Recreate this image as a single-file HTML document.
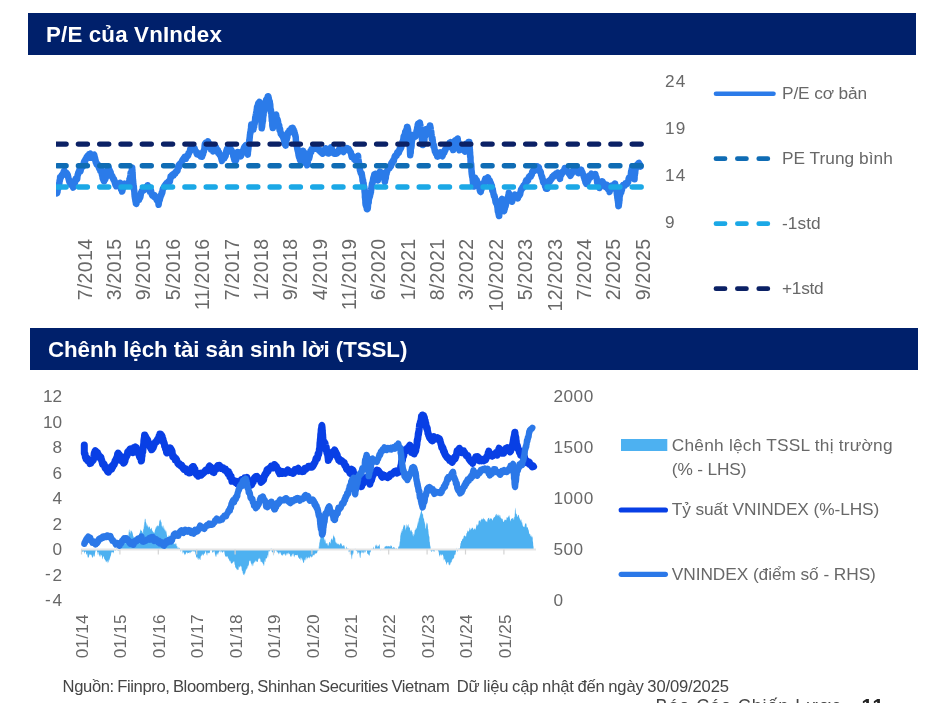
<!DOCTYPE html>
<html lang="vi">
<head>
<meta charset="utf-8">
<title>P/E của VnIndex</title>
<style>
html,body{margin:0;padding:0;background:#fff;}
body{width:947px;height:703px;overflow:hidden;}
#page{width:947px;height:703px;position:relative;overflow:hidden;font-family:"Liberation Sans",sans-serif;color:#686868;}
svg text{font-family:"Liberation Sans",sans-serif;}
.bar{position:absolute;background:#00206b;color:#fff;font-weight:bold;white-space:nowrap;}
.bar span{position:absolute;left:18px;top:0;}
#bar1{left:28px;top:13px;width:888px;height:41.8px;line-height:43.5px;font-size:22.3px;}
#bar2{left:30px;top:328px;width:888px;height:42.4px;line-height:43.5px;font-size:22.3px;}
.lg{position:absolute;white-space:nowrap;font-size:17.3px;line-height:23.7px;color:#686868;}
#foot{position:absolute;left:62.6px;top:676.5px;font-size:16.6px;line-height:20px;white-space:nowrap;color:#454545;word-spacing:-0.8px;}
#pg{position:absolute;left:655.5px;top:695.3px;font-size:18px;line-height:22px;white-space:nowrap;color:#454545;letter-spacing:0.9px;}
#pg b{position:absolute;left:206px;top:0;font-size:20px;color:#222;}
</style>
</head>
<body>
<div id="page">
<svg width="947" height="703" viewBox="0 0 947 703" style="position:absolute;left:0;top:0;will-change:transform">
<defs><clipPath id="cp1"><rect x="56" y="60" width="592" height="170"/></clipPath></defs>
<path d="M57.0,193.2 L57.1,193.1 L57.2,192.2 L57.4,192.2 L57.5,191.9 L57.6,189.8 L57.7,188.3 L57.8,189.6 L57.9,188.3 L58.1,187.3 L58.2,188.7 L58.3,187.6 L58.4,187.9 L58.5,186.6 L58.6,186.2 L58.8,184.2 L58.9,184.3 L59.0,184.7 L59.1,183.7 L59.3,183.5 L59.4,182.9 L59.6,180.5 L59.7,181.0 L59.9,180.5 L60.0,179.1 L60.1,177.2 L60.3,178.4 L60.4,177.6 L60.6,177.7 L60.7,177.9 L60.9,177.3 L61.0,177.3 L61.4,175.6 L61.8,175.7 L62.2,174.5 L62.7,175.1 L63.1,175.0 L63.5,172.5 L63.9,171.0 L64.5,170.9 L65.1,173.3 L65.7,173.1 L66.3,173.8 L66.9,173.3 L67.2,174.0 L67.4,174.3 L67.7,174.7 L67.9,175.8 L68.2,176.7 L68.4,178.4 L68.7,179.0 L68.9,180.3 L69.2,181.0 L69.4,182.1 L69.7,182.0 L69.9,180.7 L70.2,182.3 L70.4,183.7 L70.7,184.6 L71.0,184.3 L71.3,184.8 L71.5,183.8 L71.8,185.4 L72.1,185.7 L72.4,185.3 L72.6,184.6 L72.9,186.9 L73.2,187.6 L73.4,185.1 L73.7,185.6 L73.9,184.4 L74.2,182.7 L74.4,181.9 L74.7,182.7 L74.9,183.1 L75.2,180.6 L75.4,180.7 L75.7,178.8 L75.9,179.5 L76.2,178.5 L76.4,179.3 L76.7,179.8 L76.9,178.4 L77.2,178.9 L77.4,176.8 L77.7,174.8 L77.9,174.9 L78.2,173.1 L78.4,172.3 L78.7,172.2 L78.9,172.6 L79.2,171.1 L79.4,169.8 L79.7,171.2 L79.9,170.1 L80.2,171.2 L80.5,171.3 L80.8,169.6 L81.0,168.6 L81.3,168.0 L81.6,167.8 L81.9,167.3 L82.2,166.6 L82.5,166.2 L82.8,166.7 L83.0,165.4 L83.3,164.2 L83.6,164.1 L83.9,162.4 L84.2,161.4 L84.6,162.7 L84.9,161.8 L85.2,161.1 L85.6,158.9 L85.9,158.7 L86.2,158.9 L86.6,157.0 L86.9,157.6 L87.2,157.6 L87.6,155.7 L87.9,156.1 L88.3,155.5 L88.6,155.6 L89.0,154.4 L89.3,154.6 L89.7,155.6 L90.0,154.2 L90.4,153.8 L90.7,155.7 L91.1,157.8 L91.4,157.1 L91.8,157.5 L92.3,157.5 L92.8,156.5 L93.2,155.8 L93.7,155.2 L94.2,154.8 L94.4,156.1 L94.5,156.2 L94.7,156.8 L94.8,158.6 L95.0,157.6 L95.1,158.9 L95.3,160.5 L95.4,160.3 L95.6,160.2 L95.7,162.2 L95.9,161.9 L96.0,161.8 L96.2,162.8 L96.6,164.3 L97.1,163.6 L97.5,164.0 L97.9,164.6 L98.4,166.6 L98.8,166.7 L99.1,168.3 L99.4,167.4 L99.7,167.7 L100.0,169.0 L100.2,170.7 L100.5,170.5 L100.8,170.0 L101.1,169.7 L101.4,171.0 L101.6,171.0 L101.7,173.1 L101.9,174.7 L102.0,173.8 L102.2,173.9 L102.3,175.9 L102.5,176.7 L102.6,177.9 L102.8,177.5 L102.9,176.9 L103.0,177.3 L103.2,179.4 L103.3,179.2 L103.5,179.6 L103.6,180.3 L103.8,181.0 L104.0,180.4 L104.2,181.3 L104.4,179.3 L104.6,177.4 L104.8,179.0 L105.0,179.3 L105.2,179.6 L105.4,177.8 L105.6,178.1 L105.8,177.9 L106.0,175.5 L106.2,175.5 L106.4,175.5 L106.7,174.7 L106.9,173.6 L107.1,172.0 L107.3,171.1 L107.5,169.9 L107.7,168.6 L107.9,169.2 L108.2,168.3 L108.4,169.2 L108.6,167.1 L108.8,168.3 L109.0,169.2 L109.2,170.6 L109.4,171.6 L109.6,172.4 L109.8,172.2 L110.0,170.6 L110.2,172.2 L110.4,171.7 L110.6,172.0 L110.8,173.5 L111.1,174.2 L111.3,174.5 L111.6,176.4 L111.9,176.8 L112.2,176.4 L112.4,176.2 L112.7,178.1 L113.0,178.3 L113.3,179.5 L113.5,179.2 L113.8,178.8 L114.1,179.8 L114.3,181.4 L114.6,180.7 L114.9,182.3 L115.1,183.9 L115.4,184.7 L115.6,185.4 L115.9,183.6 L116.2,184.7 L116.4,186.2 L116.7,184.9 L117.2,184.2 L117.7,183.6 L118.2,184.0 L118.7,183.7 L119.2,183.5 L119.7,184.2 L119.9,183.1 L120.1,182.9 L120.3,183.2 L120.4,183.7 L120.6,184.1 L120.8,187.3 L121.0,189.0 L121.2,187.9 L121.4,188.8 L121.5,189.0 L121.7,189.4 L121.9,190.0 L122.1,191.5 L122.3,191.2 L122.5,190.2 L122.7,188.8 L122.8,188.2 L123.0,187.0 L123.2,187.4 L123.4,187.8 L123.6,186.8 L123.8,185.1 L124.0,184.2 L124.1,184.0 L124.3,184.3 L124.5,184.8 L124.7,183.6 L125.4,184.7 L126.0,184.8 L126.7,184.4 L127.4,184.0 L128.0,184.3 L128.7,185.1 L128.8,184.0 L128.9,184.0 L129.0,183.0 L129.1,181.5 L129.3,181.3 L129.4,181.4 L129.5,179.3 L129.6,178.9 L129.7,178.4 L129.8,179.3 L129.9,179.6 L130.0,177.8 L130.1,178.2 L130.3,177.7 L130.4,175.7 L130.5,174.8 L130.6,173.1 L130.7,173.9 L130.9,173.7 L131.0,173.9 L131.2,173.5 L131.4,172.6 L131.6,172.0 L131.8,170.9 L131.9,168.7 L132.1,168.6 L132.2,167.8 L132.2,168.0 L132.2,170.3 L132.3,169.7 L132.3,169.8 L132.4,170.1 L132.4,172.9 L132.5,172.6 L132.6,172.3 L132.6,174.8 L132.7,174.4 L132.7,176.5 L132.8,177.5 L132.8,178.8 L132.8,180.1 L132.9,180.0 L133.0,180.9 L133.0,179.4 L133.1,181.0 L133.1,181.4 L133.2,182.6 L133.2,181.6 L133.2,183.3 L133.3,185.1 L133.4,183.7 L133.4,184.0 L133.5,185.2 L133.6,186.8 L133.7,186.3 L133.7,186.1 L133.8,186.4 L133.9,188.0 L133.9,189.5 L134.0,189.6 L134.1,189.8 L134.1,190.3 L134.2,190.7 L134.3,191.3 L134.3,191.0 L134.4,192.3 L134.5,194.7 L134.6,194.7 L134.6,195.9 L134.7,195.1 L134.8,196.5 L134.9,197.7 L135.0,198.5 L135.1,198.6 L135.2,198.9 L135.3,199.8 L135.5,201.4 L135.6,200.2 L135.7,199.7 L135.8,201.7 L135.9,203.5 L136.0,203.6 L136.1,203.7 L136.4,203.8 L136.8,201.9 L137.1,200.9 L137.4,199.9 L137.7,200.3 L138.1,199.4 L138.4,198.5 L138.7,199.1 L139.0,200.0 L139.4,198.2 L139.7,198.3 L139.9,197.1 L140.2,197.6 L140.4,196.7 L140.7,195.0 L140.9,193.7 L141.2,192.1 L141.4,192.4 L141.7,192.0 L141.9,190.8 L142.2,190.5 L142.4,190.0 L142.7,190.7 L143.2,189.1 L143.7,190.5 L144.1,189.6 L144.6,189.1 L145.1,188.3 L145.6,188.7 L145.9,188.7 L146.3,187.6 L146.6,186.6 L146.9,186.5 L147.3,186.7 L147.6,185.2 L147.8,186.2 L148.1,187.7 L148.3,187.3 L148.6,186.7 L148.8,186.6 L149.1,188.2 L149.3,189.3 L149.6,191.0 L149.8,191.8 L150.1,190.8 L150.3,190.3 L150.6,190.5 L151.0,190.5 L151.3,192.4 L151.7,194.0 L152.1,195.3 L152.5,194.3 L152.8,195.8 L153.2,195.2 L153.6,195.4 L154.0,196.7 L154.3,195.7 L154.7,195.4 L155.1,197.7 L155.5,197.5 L155.8,197.8 L156.2,198.9 L156.6,200.0 L156.9,198.9 L157.2,199.5 L157.5,200.4 L157.7,201.3 L158.0,201.2 L158.3,202.6 L158.6,204.7 L158.8,203.2 L158.9,202.6 L159.1,200.7 L159.2,199.9 L159.4,200.3 L159.5,198.6 L159.7,199.7 L159.8,200.1 L160.0,197.6 L160.1,198.5 L160.3,197.0 L160.4,197.2 L160.6,196.9 L160.8,195.1 L161.0,195.0 L161.2,194.7 L161.5,194.7 L161.7,192.8 L161.9,193.0 L162.1,193.4 L162.3,192.5 L162.5,191.4 L162.7,189.2 L163.0,188.9 L163.2,188.1 L163.4,188.5 L163.6,188.3 L164.0,187.7 L164.3,186.0 L164.7,186.2 L165.1,186.0 L165.5,184.4 L165.8,185.4 L166.2,185.0 L166.6,183.0 L167.1,184.2 L167.6,182.4 L168.1,181.8 L168.6,182.5 L169.1,182.3 L169.6,182.0 L169.8,181.7 L170.0,180.6 L170.2,179.4 L170.4,178.0 L170.6,176.6 L170.7,177.6 L170.9,177.9 L171.1,177.2 L171.3,177.1 L171.5,175.7 L172.1,174.8 L172.7,174.5 L173.3,175.7 L173.9,173.8 L174.5,174.1 L174.8,173.0 L175.2,173.7 L175.5,172.7 L175.8,171.8 L176.2,171.2 L176.5,171.1 L176.8,171.5 L177.2,170.2 L177.5,170.7 L177.8,168.5 L178.0,167.6 L178.3,166.3 L178.6,165.4 L178.9,166.6 L179.1,166.9 L179.4,165.2 L179.7,164.0 L180.0,163.8 L180.2,164.4 L180.5,164.8 L180.9,164.5 L181.2,163.7 L181.6,161.7 L182.0,161.1 L182.4,160.0 L182.8,160.1 L183.1,160.1 L183.5,158.7 L183.9,157.9 L184.3,158.8 L184.7,156.9 L185.1,157.9 L185.5,158.5 L185.9,158.7 L186.3,157.0 L186.7,156.3 L187.1,155.8 L187.5,155.4 L187.8,156.0 L188.2,155.2 L188.5,153.3 L188.8,153.7 L189.2,152.5 L189.5,152.0 L189.8,151.8 L190.2,149.3 L190.5,150.0 L191.1,150.2 L191.7,149.6 L192.3,149.4 L192.9,148.9 L193.5,147.8 L193.9,148.7 L194.4,147.9 L194.8,149.1 L195.2,150.4 L195.6,150.6 L196.1,151.4 L196.5,153.1 L196.9,154.2 L197.2,152.7 L197.6,154.1 L197.9,154.5 L198.3,153.3 L198.7,153.8 L199.0,153.9 L199.4,153.7 L200.1,154.7 L200.7,156.5 L201.3,155.6 L202.0,156.7 L202.2,156.3 L202.4,154.1 L202.5,154.8 L202.7,154.1 L202.9,154.5 L203.1,153.8 L203.2,153.2 L203.4,151.4 L203.6,151.6 L203.8,151.8 L203.9,151.4 L204.1,149.7 L204.3,149.4 L204.5,148.2 L204.6,146.2 L204.8,144.6 L205.0,143.5 L205.4,143.2 L205.8,142.6 L206.1,143.1 L206.5,143.7 L206.9,143.4 L207.2,142.6 L207.6,142.6 L208.0,141.4 L208.2,142.0 L208.4,143.5 L208.6,143.5 L208.9,143.1 L209.1,145.3 L209.3,146.2 L209.5,145.9 L209.7,146.0 L209.9,146.8 L210.1,147.7 L210.4,147.3 L210.6,146.7 L210.8,147.2 L211.0,149.5 L211.3,149.0 L211.7,149.9 L212.0,149.9 L212.3,150.1 L212.7,150.3 L213.0,151.4 L213.4,150.5 L213.7,149.3 L214.1,148.7 L214.4,148.3 L214.8,148.9 L215.2,147.7 L215.5,146.6 L215.9,147.1 L216.2,148.1 L216.6,149.8 L216.9,149.0 L217.2,149.9 L217.6,150.6 L217.9,150.1 L218.2,152.9 L218.6,152.5 L218.9,152.1 L219.2,153.3 L219.4,153.3 L219.7,154.9 L220.0,155.2 L220.3,154.9 L220.5,154.8 L220.8,157.0 L221.1,157.1 L221.4,158.9 L221.6,159.2 L221.9,161.0 L222.6,159.5 L223.2,158.4 L223.9,157.6 L224.2,158.5 L224.4,158.1 L224.7,156.8 L224.9,155.1 L225.2,155.6 L225.4,156.5 L225.7,155.6 L225.9,153.1 L226.2,151.5 L226.4,150.6 L226.7,150.0 L226.9,149.1 L227.3,148.4 L227.7,149.6 L228.0,150.8 L228.4,149.1 L228.8,150.3 L229.2,149.2 L229.5,149.4 L229.9,149.6 L230.2,150.6 L230.4,148.7 L230.7,148.7 L231.0,149.9 L231.3,151.8 L231.5,150.5 L231.8,150.6 L232.1,152.6 L232.4,151.8 L232.6,152.4 L232.9,152.8 L233.1,154.3 L233.3,156.1 L233.5,155.2 L233.6,156.6 L233.8,157.6 L234.0,158.7 L234.2,158.7 L234.4,160.1 L234.6,159.4 L234.8,159.5 L234.9,159.2 L235.1,161.0 L235.3,161.3 L235.5,161.1 L235.7,159.8 L235.8,160.4 L236.0,160.2 L236.1,160.1 L236.3,158.8 L236.5,158.1 L236.6,156.5 L236.8,157.0 L236.9,154.9 L237.1,154.8 L237.3,155.4 L237.4,155.2 L237.6,153.1 L237.7,152.1 L237.9,153.0 L238.5,153.7 L239.1,155.0 L239.6,155.8 L240.2,155.2 L240.8,156.4 L241.1,155.8 L241.5,154.0 L241.8,152.9 L242.1,151.1 L242.5,150.9 L242.8,152.2 L243.1,150.1 L243.5,150.0 L243.8,148.4 L244.2,147.2 L244.6,148.1 L245.0,147.1 L245.4,145.7 L245.8,145.1 L246.2,146.0 L246.3,147.2 L246.5,146.4 L246.6,146.9 L246.8,149.7 L246.9,149.3 L247.1,150.4 L247.2,150.8 L247.4,152.5 L247.5,153.1 L247.7,154.3 L247.8,154.5 L247.9,152.6 L247.9,151.2 L248.0,149.9 L248.1,151.2 L248.1,149.5 L248.2,148.0 L248.3,149.7 L248.4,148.1 L248.4,149.0 L248.5,146.8 L248.6,146.5 L248.6,145.3 L248.7,146.2 L248.8,145.8 L248.8,145.4 L248.9,145.2 L249.0,145.2 L249.1,143.3 L249.1,142.8 L249.2,141.8 L249.3,139.9 L249.3,140.8 L249.4,140.3 L249.5,140.4 L249.6,138.4 L249.7,138.0 L249.7,137.3 L249.8,137.4 L249.9,135.2 L250.0,134.6 L250.1,134.4 L250.2,132.7 L250.3,133.0 L250.4,133.4 L250.4,132.4 L250.5,132.3 L250.6,131.8 L250.7,130.1 L250.8,129.3 L250.9,130.5 L251.0,128.9 L251.1,128.1 L251.1,126.3 L251.2,125.4 L251.3,124.5 L251.4,126.1 L251.9,127.1 L252.4,128.4 L252.9,129.6 L253.4,129.4 L253.5,129.4 L253.6,127.9 L253.8,126.5 L253.9,127.0 L254.0,126.9 L254.1,126.7 L254.2,125.0 L254.4,124.6 L254.5,123.0 L254.6,123.7 L254.7,123.5 L254.8,121.3 L255.0,121.7 L255.1,119.4 L255.2,117.6 L255.3,118.3 L255.4,117.1 L255.6,116.8 L255.7,116.8 L255.8,114.7 L255.9,115.4 L256.0,114.1 L256.1,113.5 L256.2,112.7 L256.4,113.2 L256.5,113.2 L256.6,111.6 L256.7,109.8 L256.8,109.2 L256.9,108.9 L257.0,107.5 L257.1,106.7 L257.2,107.8 L257.4,107.9 L257.5,108.6 L257.6,108.7 L257.7,108.1 L257.8,106.0 L258.1,104.0 L258.4,103.0 L258.8,102.6 L259.1,102.3 L259.4,101.9 L259.5,102.1 L259.5,104.0 L259.6,103.6 L259.7,104.2 L259.8,106.0 L259.8,107.1 L259.9,106.5 L260.0,106.2 L260.0,108.0 L260.1,106.9 L260.2,107.0 L260.2,108.5 L260.3,109.6 L260.4,109.4 L260.4,109.2 L260.5,109.8 L260.6,112.2 L260.7,112.8 L260.7,115.0 L260.8,115.9 L260.8,117.2 L260.9,115.4 L260.9,115.1 L261.0,114.7 L261.0,116.1 L261.1,116.8 L261.1,116.6 L261.2,118.2 L261.2,118.1 L261.3,118.9 L261.3,119.5 L261.3,121.7 L261.4,122.0 L261.4,122.0 L261.5,121.7 L261.5,122.9 L261.6,124.4 L261.6,125.7 L261.7,127.4 L261.7,128.3 L261.8,127.4 L261.8,126.8 L261.9,127.4 L262.0,127.6 L262.0,126.5 L262.1,126.7 L262.2,125.6 L262.3,124.0 L262.3,122.4 L262.4,120.9 L262.5,121.6 L262.6,122.5 L262.6,122.7 L262.7,121.3 L262.8,120.8 L262.9,121.0 L263.0,120.6 L263.0,119.4 L263.1,117.9 L263.2,117.1 L263.3,115.4 L263.3,114.2 L263.4,114.7 L263.5,115.7 L263.6,114.6 L263.6,113.3 L263.7,112.2 L263.8,111.6 L263.9,112.0 L264.0,111.0 L264.1,111.6 L264.2,109.3 L264.4,108.2 L264.5,108.0 L264.6,107.3 L264.7,107.9 L264.8,107.9 L264.9,108.0 L265.0,106.8 L265.1,104.1 L265.2,104.0 L265.4,103.6 L265.5,102.9 L265.6,101.6 L265.7,102.0 L265.8,102.5 L266.1,100.1 L266.3,100.2 L266.6,99.1 L266.8,98.7 L267.1,99.4 L267.3,99.6 L267.6,98.6 L267.8,96.4 L268.1,97.1 L268.2,96.2 L268.4,96.6 L268.5,98.5 L268.7,98.2 L268.8,98.2 L269.0,100.5 L269.1,102.1 L269.3,101.3 L269.4,101.4 L269.6,101.4 L269.7,101.2 L269.8,101.8 L269.9,104.5 L270.0,103.6 L270.1,103.9 L270.1,104.2 L270.2,104.3 L270.3,105.9 L270.4,107.8 L270.5,109.4 L270.6,109.9 L270.7,111.0 L270.8,109.5 L270.9,109.8 L270.9,112.2 L271.0,111.2 L271.1,111.5 L271.2,112.6 L271.3,112.8 L271.4,114.1 L271.4,113.5 L271.5,114.0 L271.5,116.8 L271.6,116.1 L271.7,118.3 L271.7,117.6 L271.8,119.9 L271.8,120.5 L271.9,121.0 L272.0,120.1 L272.0,119.6 L272.1,121.7 L272.2,121.3 L272.2,121.5 L272.3,123.7 L272.3,125.4 L272.4,124.1 L272.5,126.4 L272.5,126.6 L272.6,126.6 L272.6,126.0 L272.7,126.8 L272.8,128.1 L272.9,126.4 L273.0,124.8 L273.1,123.6 L273.1,122.6 L273.2,122.5 L273.3,123.8 L273.4,121.8 L273.5,120.7 L273.6,122.1 L273.7,122.8 L273.8,122.8 L273.8,120.3 L273.9,119.0 L274.0,119.8 L274.1,118.6 L274.6,118.4 L275.1,116.9 L275.6,115.0 L276.1,114.6 L276.3,116.5 L276.6,117.9 L276.8,118.3 L277.0,118.5 L277.2,119.0 L277.5,119.3 L277.7,120.0 L277.8,121.6 L277.9,120.8 L278.1,121.9 L278.2,123.7 L278.3,124.8 L278.4,123.6 L278.6,125.6 L278.7,126.6 L278.8,125.5 L278.9,125.4 L279.1,125.4 L279.2,125.3 L279.3,128.3 L279.4,128.5 L279.6,130.2 L279.7,129.2 L280.0,128.6 L280.3,131.1 L280.6,132.5 L280.8,134.1 L281.1,134.3 L281.4,134.2 L281.7,135.1 L281.9,133.9 L282.1,134.9 L282.3,135.3 L282.5,135.0 L282.7,136.4 L282.9,136.7 L283.1,137.6 L283.3,138.0 L283.5,138.3 L283.7,138.9 L284.0,140.2 L284.3,142.3 L284.6,143.6 L284.8,144.3 L285.1,144.9 L285.4,143.8 L285.7,145.6 L285.8,143.4 L285.9,141.6 L286.1,141.4 L286.2,141.7 L286.3,140.4 L286.4,140.3 L286.6,138.9 L286.7,139.9 L286.8,138.7 L286.9,137.7 L287.1,137.1 L287.2,137.5 L287.3,137.8 L287.4,136.3 L287.6,134.9 L287.7,134.4 L288.0,132.3 L288.4,132.0 L288.7,132.9 L289.1,132.9 L289.4,130.6 L289.8,131.4 L290.1,130.2 L290.5,131.2 L291.0,129.7 L291.4,128.2 L291.8,128.1 L292.3,128.9 L292.7,127.8 L292.9,129.3 L293.1,130.0 L293.3,129.5 L293.5,129.4 L293.8,130.2 L294.0,130.6 L294.2,131.0 L294.4,132.3 L294.6,134.0 L294.7,134.3 L294.8,133.5 L294.9,133.5 L295.0,134.2 L295.2,135.6 L295.3,135.3 L295.4,135.2 L295.5,136.1 L295.6,136.8 L295.7,136.7 L295.8,138.4 L295.9,140.8 L296.0,141.2 L296.2,142.3 L296.3,143.5 L296.4,144.4 L296.5,145.4 L296.6,144.9 L296.7,145.5 L296.8,144.5 L296.9,146.4 L297.0,146.3 L297.1,146.8 L297.2,148.5 L297.3,148.0 L297.4,147.6 L297.5,149.6 L297.6,150.3 L297.7,149.4 L297.8,149.0 L297.9,150.0 L298.0,149.8 L298.1,152.5 L298.2,152.2 L298.3,152.6 L298.4,153.5 L298.5,154.6 L298.6,155.2 L298.9,156.4 L299.1,157.4 L299.4,157.6 L299.6,156.9 L299.9,159.5 L300.2,160.3 L300.4,159.2 L300.7,159.9 L300.9,161.6 L301.2,163.4 L301.3,160.7 L301.4,158.8 L301.6,158.8 L301.7,158.4 L301.8,159.3 L301.9,159.3 L302.1,157.6 L302.2,156.6 L302.3,156.3 L302.4,156.7 L302.6,154.6 L302.7,153.8 L302.8,152.1 L302.9,152.6 L303.1,150.7 L303.2,152.1 L303.5,152.6 L303.8,153.2 L304.1,152.4 L304.3,152.6 L304.6,153.7 L304.9,155.7 L305.2,156.2 L305.4,155.9 L305.5,158.2 L305.7,158.7 L305.8,158.9 L306.0,158.3 L306.1,158.5 L306.3,160.7 L306.4,159.9 L306.6,160.9 L306.7,162.1 L306.9,162.1 L307.0,163.7 L307.2,165.3 L307.4,165.0 L307.6,164.2 L307.8,161.9 L307.9,160.0 L308.1,159.7 L308.3,158.9 L308.5,157.9 L308.7,159.1 L308.9,157.5 L309.0,158.1 L309.2,158.6 L309.4,156.1 L309.6,156.8 L309.8,155.4 L310.0,153.8 L310.2,152.6 L310.4,151.2 L310.6,151.5 L310.8,151.1 L311.0,152.0 L311.2,152.2 L311.4,149.7 L311.6,149.1 L312.3,148.8 L312.9,148.0 L313.6,147.7 L314.3,147.5 L314.9,148.6 L315.6,148.1 L316.2,147.5 L316.7,147.6 L317.3,148.5 L317.9,149.4 L318.5,149.1 L319.0,150.5 L319.6,149.9 L320.1,151.3 L320.6,152.1 L321.1,151.4 L321.5,153.0 L322.0,153.1 L322.5,153.7 L322.8,153.5 L323.2,153.1 L323.5,152.2 L323.8,150.2 L324.2,151.1 L324.5,151.5 L324.8,150.4 L325.2,149.8 L325.5,148.3 L325.9,150.1 L326.4,150.7 L326.8,149.8 L327.2,151.2 L327.6,152.8 L328.1,151.9 L328.5,153.5 L328.9,152.1 L329.2,150.3 L329.6,150.6 L330.0,149.4 L330.4,149.8 L330.8,149.3 L331.1,147.3 L331.5,147.3 L331.8,149.1 L332.0,149.2 L332.3,149.7 L332.6,151.2 L332.9,151.0 L333.1,151.2 L333.4,151.9 L333.7,153.3 L334.0,152.4 L334.2,151.8 L334.5,153.7 L334.9,153.5 L335.4,152.4 L335.8,153.3 L336.2,153.6 L336.6,152.6 L337.1,153.2 L337.5,152.8 L338.1,152.4 L338.7,150.7 L339.3,148.9 L339.9,149.8 L340.5,150.3 L341.0,149.9 L341.5,150.2 L342.0,150.8 L342.5,150.4 L343.0,151.6 L343.5,152.0 L343.9,151.1 L344.4,149.6 L344.8,149.9 L345.2,149.2 L345.6,149.8 L346.1,148.3 L346.5,147.9 L347.0,147.9 L347.5,148.7 L347.9,149.9 L348.4,149.3 L348.9,149.1 L349.4,150.5 L349.7,150.7 L350.1,152.0 L350.4,151.9 L350.7,151.9 L351.0,153.4 L351.4,155.7 L351.7,157.0 L352.0,156.9 L352.3,156.8 L352.7,155.9 L353.0,156.4 L353.5,156.7 L354.0,159.0 L354.5,157.9 L355.0,159.9 L355.5,159.8 L356.0,159.7 L356.3,158.5 L356.7,159.7 L357.0,157.8 L357.3,157.7 L357.7,157.2 L358.0,155.8 L358.1,156.0 L358.2,158.7 L358.3,159.8 L358.4,160.6 L358.5,161.8 L358.6,160.3 L358.7,161.6 L358.8,162.7 L358.9,162.0 L359.0,162.6 L359.0,164.8 L359.1,164.3 L359.2,165.6 L359.3,164.9 L359.4,166.2 L359.5,166.0 L359.6,166.9 L359.7,167.3 L359.8,169.3 L359.9,170.3 L360.0,170.4 L360.2,171.2 L360.4,171.2 L360.6,172.6 L360.7,172.0 L360.9,172.8 L361.1,173.6 L361.3,173.8 L361.5,173.1 L361.7,173.4 L361.8,175.2 L362.0,175.2 L362.2,177.1 L362.4,177.7 L362.5,179.6 L362.6,180.7 L362.8,181.2 L362.9,180.6 L363.0,179.7 L363.1,180.9 L363.2,182.5 L363.4,184.1 L363.5,183.2 L363.6,182.8 L363.7,185.3 L363.8,186.3 L363.9,186.3 L364.1,187.4 L364.2,186.5 L364.3,187.5 L364.3,188.6 L364.4,189.4 L364.4,188.7 L364.5,188.6 L364.5,190.2 L364.6,192.2 L364.6,191.3 L364.7,190.7 L364.7,190.9 L364.8,193.3 L364.8,193.8 L364.9,194.5 L364.9,196.8 L364.9,197.2 L365.0,196.6 L365.0,197.9 L365.1,196.8 L365.1,197.3 L365.2,199.1 L365.2,198.8 L365.3,198.5 L365.3,200.0 L365.4,200.6 L365.4,203.1 L365.5,202.1 L365.5,204.0 L365.7,204.0 L365.8,205.5 L366.0,205.6 L366.2,206.5 L366.3,206.3 L366.5,206.1 L366.7,206.9 L366.8,208.7 L367.0,208.6 L367.2,208.4 L367.3,209.2 L367.5,208.9 L367.6,208.4 L367.7,208.7 L367.7,208.5 L367.8,208.3 L367.9,206.9 L368.0,205.2 L368.0,203.9 L368.1,203.9 L368.2,203.2 L368.3,203.6 L368.4,202.7 L368.4,203.4 L368.5,203.0 L368.6,202.7 L368.7,202.5 L368.7,201.5 L368.8,200.4 L368.9,199.1 L369.1,197.4 L369.2,198.4 L369.4,197.8 L369.5,195.9 L369.7,197.1 L369.8,196.5 L370.0,196.0 L370.1,194.9 L370.3,193.0 L370.4,194.4 L370.6,192.4 L370.7,191.6 L370.9,192.7 L371.0,190.5 L371.1,190.1 L371.2,189.5 L371.3,188.3 L371.4,189.3 L371.5,188.1 L371.7,185.9 L371.8,185.8 L371.9,184.1 L372.0,185.0 L372.1,185.7 L372.2,185.9 L372.3,183.2 L372.5,183.3 L372.6,182.0 L372.8,181.5 L372.9,180.5 L373.1,179.6 L373.2,178.4 L373.4,178.9 L373.5,177.4 L373.7,178.9 L373.8,176.7 L374.0,177.9 L374.1,176.1 L374.3,174.4 L374.4,175.3 L374.6,174.8 L374.7,175.0 L374.9,174.1 L375.2,174.8 L375.4,173.8 L375.7,175.3 L376.0,175.8 L376.3,177.7 L376.5,176.2 L376.8,175.7 L377.1,177.6 L377.4,179.6 L377.6,179.4 L377.9,180.4 L378.1,179.6 L378.3,178.4 L378.4,177.6 L378.6,177.3 L378.8,175.2 L379.0,174.6 L379.2,175.2 L379.4,173.9 L379.5,173.5 L379.7,172.3 L379.9,171.7 L380.5,172.8 L381.1,173.7 L381.7,175.0 L382.3,174.3 L382.9,173.2 L383.1,173.5 L383.2,173.1 L383.4,173.7 L383.5,175.4 L383.7,176.6 L383.8,176.5 L384.0,176.5 L384.1,176.5 L384.3,177.1 L384.4,178.6 L384.6,179.0 L384.7,181.4 L384.9,182.0 L385.0,180.7 L385.1,180.0 L385.3,178.2 L385.4,179.0 L385.5,179.2 L385.6,177.8 L385.8,177.9 L385.9,176.3 L386.0,175.0 L386.1,174.0 L386.3,173.1 L386.4,173.6 L386.5,173.7 L386.6,173.7 L386.8,171.5 L386.9,172.1 L387.2,171.3 L387.4,170.3 L387.7,169.9 L388.0,169.2 L388.3,167.9 L388.5,167.5 L388.8,167.8 L389.1,168.0 L389.4,168.4 L389.6,166.2 L389.9,166.8 L390.2,166.7 L390.5,166.1 L390.9,166.3 L391.2,163.6 L391.5,163.8 L391.8,164.1 L392.2,161.6 L392.5,161.4 L392.8,162.1 L393.1,160.3 L393.5,160.7 L393.8,160.9 L394.1,159.3 L394.5,157.3 L394.8,156.2 L395.1,157.1 L395.5,156.2 L395.8,155.1 L396.2,154.7 L396.6,155.7 L396.9,154.0 L397.3,152.2 L397.7,153.7 L398.1,152.4 L398.4,151.7 L398.8,152.9 L399.1,151.1 L399.4,149.3 L399.7,150.5 L400.0,149.0 L400.2,147.8 L400.5,149.1 L400.8,147.4 L401.1,148.2 L401.4,146.7 L401.6,145.5 L401.7,144.3 L401.9,144.4 L402.0,144.2 L402.2,143.4 L402.4,143.0 L402.5,141.8 L402.7,142.6 L402.8,143.0 L403.0,142.4 L403.2,142.0 L403.3,139.3 L403.5,138.1 L403.6,137.0 L403.8,136.0 L404.0,137.6 L404.2,138.0 L404.4,138.0 L404.6,136.7 L404.8,134.4 L405.0,133.7 L405.2,132.0 L405.4,133.3 L405.6,131.9 L405.8,130.9 L406.0,132.0 L406.2,130.1 L406.4,131.0 L406.6,129.3 L406.8,129.2 L407.0,127.1 L407.2,128.1 L407.4,126.9 L407.5,127.0 L407.6,128.3 L407.7,129.1 L407.8,128.8 L407.9,128.5 L408.0,130.0 L408.1,129.4 L408.2,131.9 L408.3,132.0 L408.4,131.8 L408.4,132.4 L408.5,132.4 L408.6,133.3 L408.7,134.7 L408.8,135.4 L408.9,135.8 L409.0,136.2 L409.1,137.3 L409.2,139.0 L409.3,139.3 L409.4,140.6 L409.4,140.8 L409.5,140.1 L409.5,140.2 L409.5,142.5 L409.6,143.0 L409.6,143.2 L409.6,144.0 L409.7,145.7 L409.7,145.5 L409.7,145.7 L409.8,146.0 L409.8,145.5 L409.8,147.0 L409.9,148.0 L409.9,148.8 L409.9,149.4 L410.0,150.1 L410.0,151.5 L410.0,150.9 L410.1,153.3 L410.1,152.3 L410.1,154.2 L410.2,153.5 L410.2,155.3 L410.3,153.7 L410.4,152.0 L410.4,152.2 L410.5,152.9 L410.6,153.0 L410.7,152.9 L410.7,152.9 L410.8,149.8 L410.9,148.8 L411.0,147.2 L411.0,148.0 L411.1,147.2 L411.2,147.4 L411.3,147.3 L411.3,147.7 L411.4,146.6 L411.5,146.3 L411.6,144.9 L411.6,142.5 L411.7,143.3 L411.8,141.1 L412.0,139.5 L412.1,140.7 L412.3,139.3 L412.4,139.5 L412.6,137.4 L412.7,136.5 L412.9,137.3 L413.0,135.4 L413.2,135.5 L413.3,136.5 L413.5,134.7 L413.6,134.8 L413.8,134.8 L414.3,135.2 L414.8,136.1 L415.3,136.6 L415.8,135.1 L415.9,133.8 L416.0,133.9 L416.2,135.0 L416.3,133.0 L416.4,132.8 L416.5,131.0 L416.6,131.9 L416.8,130.9 L416.9,130.3 L417.0,130.1 L417.1,128.1 L417.2,128.6 L417.3,128.7 L417.5,128.7 L417.6,126.7 L417.7,125.1 L418.0,123.8 L418.4,125.0 L418.7,124.1 L419.0,123.1 L419.4,122.7 L419.7,122.7 L419.8,122.6 L419.9,122.8 L420.0,124.5 L420.1,125.7 L420.2,125.2 L420.3,124.5 L420.4,127.0 L420.5,128.0 L420.6,128.4 L420.7,128.4 L420.8,130.3 L420.9,130.0 L421.0,129.5 L421.1,129.1 L421.2,129.9 L421.3,131.4 L421.4,131.8 L421.4,134.0 L421.5,134.6 L421.5,134.7 L421.6,135.6 L421.7,136.2 L421.7,136.8 L421.8,137.1 L421.8,137.6 L421.9,138.0 L422.0,139.6 L422.0,138.8 L422.1,140.4 L422.2,140.1 L422.2,141.8 L422.3,140.8 L422.3,141.7 L422.4,142.3 L422.5,143.8 L422.5,143.3 L422.6,143.5 L422.6,143.5 L422.7,145.1 L422.9,145.0 L423.0,143.0 L423.2,142.1 L423.3,141.4 L423.5,143.0 L423.6,142.1 L423.8,141.7 L423.9,140.4 L424.1,140.5 L424.2,140.7 L424.4,140.1 L424.5,137.5 L424.7,137.1 L424.9,136.8 L425.0,135.0 L425.2,135.9 L425.3,134.8 L425.5,133.8 L425.6,134.0 L425.8,133.7 L425.9,133.0 L426.1,133.4 L426.2,132.3 L426.4,130.9 L426.5,129.1 L426.7,129.2 L427.2,129.6 L427.7,130.5 L428.2,130.7 L428.7,130.0 L428.8,128.8 L429.0,128.3 L429.1,127.5 L429.3,129.1 L429.4,128.9 L429.5,127.5 L429.7,127.8 L429.8,127.5 L430.0,125.4 L430.1,126.0 L430.2,125.7 L430.3,128.2 L430.4,127.2 L430.5,127.4 L430.6,127.7 L430.7,130.0 L430.8,131.4 L430.9,131.7 L431.0,130.9 L431.1,131.5 L431.2,133.0 L431.3,132.1 L431.4,134.6 L431.5,135.9 L431.6,137.2 L431.7,137.5 L431.8,137.7 L431.9,139.2 L432.1,138.2 L432.2,138.0 L432.3,137.6 L432.4,137.9 L432.6,140.1 L432.7,139.6 L432.8,141.5 L432.9,141.8 L433.1,143.7 L433.2,144.6 L433.3,145.2 L433.4,146.3 L433.6,144.8 L433.7,144.9 L433.9,145.5 L434.1,146.3 L434.3,147.7 L434.5,149.4 L434.7,150.1 L434.9,151.4 L435.1,151.6 L435.3,151.0 L435.5,151.4 L435.7,152.6 L435.9,153.8 L436.2,153.4 L436.4,153.4 L436.7,154.4 L436.9,154.1 L437.2,156.2 L437.4,155.0 L437.7,156.6 L438.0,156.0 L438.2,154.6 L438.5,154.7 L438.8,154.2 L439.0,155.2 L439.3,155.2 L439.6,154.1 L439.8,154.1 L440.1,153.8 L440.5,152.4 L441.0,153.8 L441.4,154.8 L441.8,156.0 L442.3,156.3 L442.7,155.5 L443.0,153.7 L443.2,153.8 L443.5,152.3 L443.8,152.9 L444.0,152.4 L444.3,152.6 L444.5,151.1 L444.8,149.9 L445.1,150.8 L445.3,150.3 L445.6,148.9 L446.1,148.5 L446.6,147.7 L447.1,147.7 L447.6,147.0 L448.1,145.8 L448.6,147.0 L448.9,147.0 L449.2,146.4 L449.5,144.4 L449.7,142.8 L450.0,143.2 L450.3,143.5 L450.6,142.9 L450.8,142.1 L451.0,143.5 L451.2,143.9 L451.5,143.9 L451.7,144.8 L451.9,145.2 L452.1,146.2 L452.3,147.4 L452.6,149.0 L452.8,147.5 L453.0,148.3 L453.2,150.1 L453.4,149.4 L453.5,148.4 L453.7,148.5 L453.8,145.8 L454.0,146.3 L454.2,145.8 L454.3,145.2 L454.5,143.7 L454.6,143.6 L454.8,141.8 L455.0,141.7 L455.1,140.6 L455.3,141.7 L455.4,141.7 L455.6,140.4 L456.3,140.6 L456.9,139.4 L457.6,139.0 L457.7,138.5 L457.8,140.6 L457.9,141.7 L458.0,142.6 L458.2,141.3 L458.3,143.1 L458.4,142.0 L458.5,143.2 L458.6,144.0 L458.7,143.4 L458.8,144.4 L458.9,146.7 L459.0,147.4 L459.2,147.1 L459.3,148.7 L459.4,148.5 L459.5,150.3 L459.6,150.1 L459.9,148.1 L460.3,149.4 L460.6,147.2 L461.0,146.3 L461.3,147.1 L461.7,145.3 L462.0,145.3 L462.3,147.2 L462.6,147.6 L462.9,147.4 L463.2,148.7 L463.4,149.9 L463.7,150.1 L464.0,150.5 L464.3,150.1 L464.6,150.4 L464.8,151.4 L465.0,151.6 L465.2,148.6 L465.4,147.2 L465.6,146.2 L465.8,147.2 L466.0,145.6 L466.2,144.4 L466.4,145.2 L466.6,143.6 L466.8,144.9 L467.0,143.8 L467.2,144.2 L467.9,144.2 L468.5,142.2 L469.2,142.7 L469.2,142.7 L469.3,142.3 L469.3,141.9 L469.4,143.9 L469.4,144.9 L469.5,144.9 L469.5,146.8 L469.6,146.2 L469.6,146.9 L469.6,146.5 L469.7,147.3 L469.7,149.7 L469.8,150.1 L469.8,149.5 L469.9,149.8 L469.9,151.4 L470.0,151.5 L470.0,153.6 L470.1,152.6 L470.1,154.7 L470.1,155.5 L470.2,156.7 L470.2,156.3 L470.3,155.5 L470.3,155.6 L470.4,157.3 L470.4,156.8 L470.5,157.0 L470.5,159.4 L470.6,161.3 L470.6,162.5 L470.7,163.4 L470.7,163.3 L470.8,164.5 L470.9,164.9 L470.9,165.0 L471.0,164.9 L471.0,163.9 L471.1,163.8 L471.2,164.5 L471.2,165.8 L471.3,165.8 L471.4,168.6 L471.4,169.2 L471.5,170.4 L471.5,171.7 L471.6,170.7 L471.7,172.4 L471.7,173.8 L471.8,172.8 L471.8,172.1 L471.9,174.0 L472.0,175.6 L472.1,176.5 L472.1,176.0 L472.2,176.7 L472.3,175.8 L472.4,176.0 L472.5,176.9 L472.5,178.6 L472.6,177.9 L472.7,180.3 L472.8,179.2 L472.9,181.6 L472.9,181.1 L473.0,182.8 L473.1,184.0 L473.2,185.3 L473.3,184.9 L473.3,185.6 L473.4,185.0 L473.5,186.6 L473.7,184.4 L473.8,185.2 L474.0,184.5 L474.1,182.2 L474.3,183.3 L474.4,181.8 L474.6,179.9 L474.7,179.2 L474.9,177.8 L475.0,177.6 L475.2,178.4 L475.3,179.5 L475.5,178.7 L475.7,179.9 L475.9,180.7 L476.1,181.1 L476.3,180.6 L476.5,180.2 L476.7,179.9 L476.9,181.2 L477.1,181.2 L477.3,183.1 L477.5,183.1 L477.8,184.1 L478.0,184.9 L478.2,185.8 L478.5,185.1 L478.8,185.4 L479.0,187.0 L479.2,186.8 L479.5,188.3 L479.8,190.3 L480.0,189.9 L480.2,191.6 L480.5,191.8 L480.7,192.0 L480.9,190.6 L481.1,190.3 L481.4,189.6 L481.6,187.5 L481.8,187.1 L482.0,186.7 L482.2,185.9 L482.5,185.8 L482.7,186.3 L482.9,185.9 L483.1,185.5 L483.4,183.0 L483.8,183.0 L484.1,182.6 L484.5,183.0 L484.8,180.2 L485.2,178.9 L485.5,180.3 L486.0,179.2 L486.5,179.4 L486.9,179.0 L487.4,178.0 L487.9,177.4 L488.3,178.3 L488.6,180.3 L489.0,180.2 L489.4,181.3 L489.8,180.6 L490.1,181.8 L490.5,182.3 L490.7,183.3 L490.8,184.6 L491.0,183.2 L491.1,185.3 L491.3,185.7 L491.4,185.1 L491.6,185.7 L491.7,185.2 L491.9,185.6 L492.0,187.9 L492.2,189.1 L492.3,190.5 L492.5,189.4 L492.7,188.9 L492.8,189.8 L493.0,190.8 L493.1,192.4 L493.3,192.2 L493.4,193.8 L493.6,194.4 L493.7,194.2 L493.9,195.8 L494.0,194.8 L494.2,196.1 L494.3,195.9 L494.5,195.6 L494.7,197.1 L494.9,198.2 L495.1,199.4 L495.3,199.7 L495.5,201.7 L495.7,202.7 L495.8,201.6 L496.0,200.8 L496.2,203.6 L496.4,203.7 L496.6,203.1 L496.8,203.3 L497.0,205.2 L497.1,205.0 L497.2,205.7 L497.4,207.4 L497.5,207.5 L497.6,208.8 L497.8,210.7 L497.9,211.6 L498.0,211.8 L498.1,212.2 L498.2,211.8 L498.4,212.8 L498.5,213.7 L498.6,214.3 L498.8,214.6 L498.9,215.8 L499.0,215.1 L499.1,215.3 L499.2,216.0 L499.3,213.2 L499.4,212.1 L499.5,213.4 L499.6,211.1 L499.7,211.8 L499.8,211.2 L499.9,209.0 L500.0,209.3 L500.1,207.2 L500.3,208.4 L500.4,207.1 L500.5,208.0 L500.6,208.1 L500.7,205.6 L500.8,204.8 L500.9,203.3 L501.0,204.0 L501.1,202.2 L501.2,200.8 L501.3,199.9 L501.4,201.4 L501.6,200.0 L501.8,199.2 L502.0,198.9 L502.1,200.0 L502.2,200.4 L502.3,202.5 L502.4,202.1 L502.5,202.6 L502.6,204.3 L502.7,203.6 L502.8,203.3 L502.9,205.4 L503.0,205.2 L503.1,207.1 L503.2,208.3 L503.3,207.8 L503.4,207.7 L503.5,207.2 L503.6,209.5 L503.7,209.8 L503.8,209.9 L503.9,209.7 L504.0,210.0 L504.2,211.2 L504.3,209.3 L504.5,209.3 L504.6,209.2 L504.8,208.6 L504.9,207.9 L505.1,206.9 L505.2,205.5 L505.4,206.3 L505.5,206.7 L505.7,205.7 L505.8,203.9 L506.0,204.6 L506.2,202.6 L506.4,201.2 L506.5,201.5 L506.7,202.0 L506.9,201.3 L507.1,199.2 L507.2,200.4 L507.4,198.4 L507.6,197.5 L507.8,198.7 L507.9,198.6 L508.1,198.1 L508.3,195.5 L508.5,196.2 L508.6,194.9 L508.8,192.8 L509.0,193.7 L509.3,195.5 L509.5,194.1 L509.8,194.8 L510.1,196.7 L510.4,196.3 L510.6,196.3 L510.9,197.9 L511.2,198.1 L511.5,200.1 L511.7,201.0 L512.0,201.7 L512.4,200.9 L512.7,198.7 L513.1,198.7 L513.5,198.2 L513.8,197.4 L514.2,196.9 L514.5,195.7 L514.9,194.5 L515.4,196.6 L515.9,196.2 L516.4,195.4 L516.9,197.7 L517.4,197.7 L517.9,198.4 L518.2,197.0 L518.4,195.4 L518.7,194.9 L519.0,195.8 L519.3,194.4 L519.5,195.3 L519.8,193.7 L520.1,194.4 L520.4,192.4 L520.6,191.8 L520.9,190.3 L521.2,189.3 L521.4,189.6 L521.7,189.1 L522.0,189.0 L522.3,187.8 L522.5,187.2 L522.8,186.6 L523.1,187.8 L523.4,185.7 L523.6,185.4 L523.9,186.2 L524.3,185.7 L524.6,184.2 L525.0,185.4 L525.4,183.1 L525.8,181.7 L526.1,180.4 L526.5,180.7 L526.9,181.9 L527.3,180.6 L527.6,179.7 L528.0,180.5 L528.4,178.5 L528.8,177.1 L529.1,178.0 L529.5,176.5 L529.9,176.8 L530.2,175.6 L530.4,176.0 L530.7,176.8 L531.0,175.7 L531.3,174.4 L531.5,174.5 L531.8,174.5 L532.1,172.3 L532.4,171.5 L532.6,171.1 L532.9,171.1 L533.3,170.3 L533.8,170.8 L534.2,169.6 L534.6,170.8 L535.0,169.5 L535.5,168.3 L535.9,167.0 L536.5,166.4 L537.1,166.3 L537.7,168.2 L538.3,167.7 L538.9,167.4 L539.1,169.5 L539.3,170.9 L539.5,171.4 L539.7,170.3 L539.8,170.3 L540.0,171.1 L540.2,171.0 L540.4,171.5 L540.6,171.6 L540.8,172.1 L541.0,174.1 L541.2,175.1 L541.4,175.4 L541.6,175.9 L541.8,176.9 L542.0,177.9 L542.2,176.8 L542.4,178.9 L542.6,179.1 L542.8,179.2 L543.0,181.4 L543.2,182.2 L543.4,181.7 L543.6,180.8 L543.8,181.7 L544.0,182.5 L544.2,183.1 L544.4,182.8 L544.6,184.3 L544.8,184.5 L545.1,186.4 L545.4,186.9 L545.7,186.8 L545.9,188.6 L546.2,188.7 L546.5,187.9 L546.8,188.3 L547.0,186.9 L547.1,187.0 L547.3,188.2 L547.4,188.7 L547.6,187.9 L547.7,185.6 L547.9,184.3 L548.0,183.3 L548.2,182.9 L548.3,183.2 L548.5,181.3 L548.6,181.3 L548.8,180.9 L549.2,181.3 L549.7,181.8 L550.1,180.6 L550.5,180.3 L550.9,179.0 L551.4,178.7 L551.8,178.8 L552.2,176.9 L552.7,177.1 L553.1,177.0 L553.5,175.7 L553.9,175.1 L554.4,176.2 L554.8,175.3 L555.3,174.2 L555.8,173.7 L556.3,174.0 L556.8,173.6 L557.3,173.1 L557.8,172.6 L558.1,172.8 L558.4,174.0 L558.7,175.2 L558.9,174.6 L559.2,176.0 L559.5,176.2 L559.8,178.6 L560.0,178.9 L560.2,176.4 L560.4,176.4 L560.6,175.1 L560.8,173.5 L561.0,174.6 L561.2,175.0 L561.4,174.7 L561.6,173.8 L561.8,174.0 L562.0,172.6 L562.2,172.0 L562.7,171.5 L563.2,171.6 L563.8,171.5 L564.3,169.6 L564.8,168.1 L565.4,168.9 L566.0,169.7 L566.5,169.6 L567.1,171.2 L567.7,172.2 L568.0,172.6 L568.4,172.7 L568.7,173.4 L569.0,172.6 L569.4,174.2 L569.7,173.3 L570.0,175.3 L570.4,175.9 L570.7,175.4 L571.0,174.0 L571.2,174.1 L571.5,173.6 L571.7,173.7 L572.0,171.7 L572.3,172.7 L572.5,171.6 L572.8,170.8 L573.0,170.9 L573.3,170.4 L573.9,170.2 L574.5,169.7 L575.1,170.1 L575.7,169.1 L576.2,169.6 L576.7,171.8 L577.2,171.1 L577.7,170.8 L578.2,173.1 L578.7,173.2 L579.1,173.0 L579.6,172.8 L580.0,172.9 L580.4,171.5 L580.9,171.9 L581.3,169.6 L581.6,171.7 L581.8,171.5 L582.1,172.5 L582.4,172.4 L582.6,173.9 L582.9,173.9 L583.2,174.8 L583.4,174.7 L583.7,176.4 L583.9,177.4 L584.1,176.5 L584.3,178.0 L584.6,179.6 L584.8,178.6 L585.0,178.2 L585.2,180.4 L585.4,182.0 L585.6,180.6 L585.8,182.1 L586.1,183.6 L586.3,182.7 L586.5,184.0 L586.7,183.5 L587.0,183.8 L587.2,182.9 L587.5,182.0 L587.7,180.2 L588.0,180.5 L588.3,180.5 L588.5,179.1 L588.8,177.3 L589.0,176.1 L589.3,175.7 L589.6,177.5 L590.0,177.4 L590.3,177.6 L590.7,177.0 L591.0,174.6 L591.4,173.7 L591.7,174.7 L592.3,175.0 L592.9,175.5 L593.4,175.2 L594.0,174.6 L594.2,175.1 L594.4,176.1 L594.6,175.4 L594.9,174.2 L595.1,174.6 L595.3,174.1 L595.5,174.9 L595.7,176.6 L596.0,176.8 L596.2,177.1 L596.4,177.1 L596.6,178.1 L596.8,179.4 L597.0,180.6 L597.2,182.6 L597.5,181.3 L597.7,181.4 L597.9,181.2 L598.1,183.9 L598.3,184.7 L598.5,185.5 L598.7,186.7 L599.0,185.1 L599.2,187.3 L599.4,187.0 L599.6,188.0 L599.8,186.9 L600.1,187.1 L600.3,185.6 L600.6,184.4 L600.8,183.4 L601.0,184.0 L601.3,183.3 L601.5,181.7 L601.8,181.2 L602.0,181.2 L602.5,181.4 L603.0,182.4 L603.6,183.8 L604.1,184.2 L604.6,185.0 L605.0,184.3 L605.4,185.8 L605.7,187.1 L606.1,186.8 L606.5,185.3 L606.9,184.9 L607.2,187.0 L607.6,188.6 L607.9,189.3 L608.3,189.3 L608.6,189.6 L608.9,188.7 L609.3,189.9 L609.6,192.0 L609.8,189.9 L610.1,189.7 L610.3,190.0 L610.6,189.3 L610.8,187.8 L611.0,186.3 L611.3,186.7 L611.5,187.3 L611.8,187.1 L612.0,185.4 L612.6,185.5 L613.3,185.7 L614.0,184.3 L614.6,184.6 L614.8,184.4 L614.9,184.1 L615.1,183.5 L615.2,185.7 L615.4,187.2 L615.5,186.2 L615.7,186.0 L615.8,186.9 L616.0,187.4 L616.1,189.5 L616.3,189.3 L616.4,190.6 L616.6,191.6 L616.7,191.7 L616.8,193.6 L616.9,193.7 L616.9,194.2 L617.0,195.2 L617.1,195.3 L617.2,194.9 L617.3,197.3 L617.4,198.3 L617.5,198.5 L617.6,198.7 L617.6,199.4 L617.7,199.2 L617.8,198.6 L617.9,200.0 L618.0,202.1 L618.1,201.1 L618.2,203.5 L618.3,203.3 L618.3,205.3 L618.4,206.0 L618.5,205.1 L618.6,204.8 L618.7,205.6 L618.8,206.1 L618.8,205.6 L618.9,204.3 L619.0,203.2 L619.1,203.1 L619.2,202.8 L619.2,202.4 L619.3,200.3 L619.4,200.5 L619.5,200.6 L619.5,199.3 L619.6,196.6 L619.7,195.4 L619.8,195.8 L619.9,195.1 L619.9,195.9 L620.0,195.2 L620.1,194.7 L620.3,192.6 L620.5,192.2 L620.8,192.3 L621.0,192.7 L621.2,192.5 L621.5,190.3 L621.7,189.5 L621.9,190.2 L622.3,187.7 L622.6,186.0 L623.0,185.1 L623.4,186.0 L623.8,185.1 L624.1,185.4 L624.5,185.7 L624.9,185.7 L625.4,183.2 L625.8,183.6 L626.2,183.9 L626.6,183.6 L627.1,183.8 L627.5,183.5 L627.8,182.4 L628.0,182.4 L628.3,181.1 L628.6,178.9 L628.9,177.9 L629.1,179.1 L629.4,177.7 L629.7,177.1 L630.0,177.7 L630.2,177.3 L630.5,177.1 L630.7,175.7 L630.8,174.8 L631.0,172.7 L631.1,171.7 L631.3,170.7 L631.4,171.1 L631.6,170.9 L631.7,169.2 L631.9,169.7 L632.0,168.1 L632.2,167.8 L632.3,166.3 L632.5,166.5 L632.6,166.6 L632.8,169.3 L632.9,169.3 L633.0,171.0 L633.1,171.1 L633.2,171.1 L633.4,172.9 L633.5,172.4 L633.6,173.2 L633.8,174.3 L633.9,176.2 L634.0,176.7 L634.1,175.2 L634.2,176.0 L634.4,178.1 L634.5,179.3 L634.6,177.5 L634.6,175.6 L634.7,174.6 L634.8,175.3 L634.9,173.7 L634.9,174.7 L635.0,173.0 L635.1,173.1 L635.2,172.9 L635.2,171.2 L635.3,170.8 L635.4,170.7 L635.5,169.2 L635.5,168.9 L635.6,168.8 L635.7,169.4 L635.8,167.5 L635.8,165.8 L635.9,165.6 L636.3,165.7 L636.8,165.1 L637.2,165.9 L637.6,164.0 L638.1,163.7 L638.5,163.2 L638.9,162.9 L639.3,163.7 L639.7,164.5 L640.1,164.9 L640.5,166.6" fill="none" stroke="#2b7be9" stroke-width="6.5" stroke-linejoin="round" stroke-linecap="round" clip-path="url(#cp1)"/>
<line x1="57.1" y1="144.1" x2="642" y2="144.1" stroke="#0b2165" stroke-width="5.4" stroke-linecap="round" stroke-dasharray="9 12.3" clip-path="url(#cp1)"/>
<line x1="57.1" y1="165.7" x2="642" y2="165.7" stroke="#0f6cb4" stroke-width="5.4" stroke-linecap="round" stroke-dasharray="9 12.3" clip-path="url(#cp1)"/>
<line x1="57.1" y1="187.0" x2="642" y2="187.0" stroke="#1ba8e6" stroke-width="5.4" stroke-linecap="round" stroke-dasharray="9 12.3" clip-path="url(#cp1)"/>
<text x="665" y="87.4" font-size="17.2" letter-spacing="1.2" fill="#686868">24</text>
<text x="665" y="134.3" font-size="17.2" letter-spacing="1.2" fill="#686868">19</text>
<text x="665" y="181.2" font-size="17.2" letter-spacing="1.2" fill="#686868">14</text>
<text x="665" y="228.0" font-size="17.2" letter-spacing="1.2" fill="#686868">9</text>
<text transform="translate(91.7,238.6) rotate(-90)" text-anchor="end" font-size="19.5" letter-spacing="0.35" fill="#686868">7/2014</text>
<text transform="translate(121.1,238.6) rotate(-90)" text-anchor="end" font-size="19.5" letter-spacing="0.35" fill="#686868">3/2015</text>
<text transform="translate(150.4,238.6) rotate(-90)" text-anchor="end" font-size="19.5" letter-spacing="0.35" fill="#686868">9/2015</text>
<text transform="translate(179.8,238.6) rotate(-90)" text-anchor="end" font-size="19.5" letter-spacing="0.35" fill="#686868">5/2016</text>
<text transform="translate(209.1,238.6) rotate(-90)" text-anchor="end" font-size="19.5" letter-spacing="0.35" fill="#686868">11/2016</text>
<text transform="translate(238.5,238.6) rotate(-90)" text-anchor="end" font-size="19.5" letter-spacing="0.35" fill="#686868">7/2017</text>
<text transform="translate(267.9,238.6) rotate(-90)" text-anchor="end" font-size="19.5" letter-spacing="0.35" fill="#686868">1/2018</text>
<text transform="translate(297.2,238.6) rotate(-90)" text-anchor="end" font-size="19.5" letter-spacing="0.35" fill="#686868">9/2018</text>
<text transform="translate(326.6,238.6) rotate(-90)" text-anchor="end" font-size="19.5" letter-spacing="0.35" fill="#686868">4/2019</text>
<text transform="translate(355.9,238.6) rotate(-90)" text-anchor="end" font-size="19.5" letter-spacing="0.35" fill="#686868">11/2019</text>
<text transform="translate(385.3,238.6) rotate(-90)" text-anchor="end" font-size="19.5" letter-spacing="0.35" fill="#686868">6/2020</text>
<text transform="translate(414.7,238.6) rotate(-90)" text-anchor="end" font-size="19.5" letter-spacing="0.35" fill="#686868">1/2021</text>
<text transform="translate(444.0,238.6) rotate(-90)" text-anchor="end" font-size="19.5" letter-spacing="0.35" fill="#686868">8/2021</text>
<text transform="translate(473.4,238.6) rotate(-90)" text-anchor="end" font-size="19.5" letter-spacing="0.35" fill="#686868">3/2022</text>
<text transform="translate(502.7,238.6) rotate(-90)" text-anchor="end" font-size="19.5" letter-spacing="0.35" fill="#686868">10/2022</text>
<text transform="translate(532.1,238.6) rotate(-90)" text-anchor="end" font-size="19.5" letter-spacing="0.35" fill="#686868">5/2023</text>
<text transform="translate(561.5,238.6) rotate(-90)" text-anchor="end" font-size="19.5" letter-spacing="0.35" fill="#686868">12/2023</text>
<text transform="translate(590.8,238.6) rotate(-90)" text-anchor="end" font-size="19.5" letter-spacing="0.35" fill="#686868">7/2024</text>
<text transform="translate(620.2,238.6) rotate(-90)" text-anchor="end" font-size="19.5" letter-spacing="0.35" fill="#686868">2/2025</text>
<text transform="translate(649.5,238.6) rotate(-90)" text-anchor="end" font-size="19.5" letter-spacing="0.35" fill="#686868">9/2025</text>
<line x1="716" y1="93.7" x2="773.5" y2="93.7" stroke="#2b7be9" stroke-width="4.6" stroke-linecap="round"/>
<line x1="716" y1="158.7" x2="770" y2="158.7" stroke="#0f6cb4" stroke-width="4.8" stroke-linecap="round" stroke-dasharray="9 12.4"/>
<line x1="716" y1="223.7" x2="770" y2="223.7" stroke="#1ba8e6" stroke-width="4.8" stroke-linecap="round" stroke-dasharray="9 12.4"/>
<line x1="716" y1="288.7" x2="770" y2="288.7" stroke="#0b2165" stroke-width="4.8" stroke-linecap="round" stroke-dasharray="9 12.4"/>
<path d="M81.5,549.5 L81.5,549.3 L81.9,550.0 L82.2,552.2 L82.6,551.5 L82.9,551.5 L83.3,552.0 L83.6,550.6 L84.0,551.5 L84.3,552.6 L84.7,554.1 L85.0,552.1 L85.4,552.0 L85.8,551.1 L86.2,553.9 L86.7,555.1 L87.1,552.9 L87.5,556.1 L87.9,557.8 L88.4,557.5 L88.8,557.3 L89.2,555.3 L89.6,553.8 L89.9,555.4 L90.3,554.4 L90.7,554.6 L91.1,555.1 L91.4,554.6 L91.8,556.4 L92.0,556.6 L92.3,558.3 L92.5,557.6 L92.7,557.5 L92.9,556.7 L93.2,556.7 L93.4,555.6 L93.6,554.0 L93.8,556.1 L94.1,557.0 L94.3,556.6 L94.7,555.7 L95.0,553.3 L95.4,551.5 L95.8,550.5 L96.2,548.9 L96.5,550.9 L96.9,550.2 L97.2,552.4 L97.5,551.8 L97.7,554.2 L98.0,555.2 L98.3,552.2 L98.6,551.7 L98.8,554.6 L99.1,554.5 L99.4,556.9 L99.8,555.8 L100.1,553.9 L100.5,555.4 L100.8,557.1 L101.2,556.0 L101.5,554.7 L101.9,555.2 L102.2,558.5 L102.6,559.5 L102.9,557.4 L103.3,557.0 L103.6,556.3 L103.9,556.0 L104.2,559.2 L104.6,558.5 L104.9,559.9 L105.2,560.4 L105.5,559.8 L105.8,562.0 L106.1,560.7 L106.5,562.5 L106.8,561.4 L107.1,562.3 L107.3,561.1 L107.6,560.6 L107.8,563.1 L108.0,563.6 L108.3,561.4 L108.5,562.6 L108.8,560.1 L109.0,559.3 L109.2,560.6 L109.5,560.3 L109.7,557.5 L109.9,559.6 L110.2,557.2 L110.4,555.8 L110.6,557.1 L110.8,555.7 L111.1,554.6 L111.3,552.7 L111.5,551.6 L111.7,552.9 L112.0,552.0 L112.2,552.8 L112.5,552.1 L112.8,551.8 L113.1,553.7 L113.4,552.5 L113.6,552.0 L113.9,552.8 L114.2,550.1 L114.5,548.3 L114.8,550.4 L115.3,551.3 L115.8,549.2 L116.3,547.7 L116.8,549.3 L117.3,550.9 L117.9,548.5 L118.4,550.5 L118.9,551.2 L119.4,550.3 L119.9,548.9 L120.3,546.5 L120.6,544.7 L121.0,547.6 L121.4,545.9 L121.7,546.8 L122.1,545.2 L122.5,546.6 L122.8,546.2 L123.2,544.5 L123.5,542.9 L123.9,544.3 L124.3,542.0 L124.6,541.2 L125.0,542.1 L125.2,543.6 L125.4,543.2 L125.6,541.3 L125.7,542.8 L125.9,540.3 L126.1,537.8 L126.3,537.4 L126.5,537.7 L126.7,536.0 L126.9,535.3 L127.0,535.6 L127.2,536.4 L127.4,534.7 L127.6,534.5 L127.8,536.6 L128.0,537.9 L128.2,536.9 L128.3,536.3 L128.5,535.3 L128.7,532.6 L128.9,530.4 L129.3,529.0 L129.6,532.0 L130.0,532.6 L130.3,533.9 L130.7,530.3 L131.0,530.9 L131.4,530.3 L131.6,531.8 L131.9,531.0 L132.1,533.8 L132.3,531.4 L132.6,532.4 L132.8,534.0 L133.1,535.8 L133.3,536.3 L133.5,536.6 L133.8,537.4 L134.0,538.6 L134.4,536.8 L134.8,537.5 L135.2,538.9 L135.6,539.7 L135.9,538.3 L136.3,539.3 L136.7,540.4 L137.1,539.8 L137.3,539.1 L137.5,537.4 L137.7,537.1 L137.9,536.9 L138.1,534.2 L138.3,534.9 L138.5,536.7 L138.8,537.0 L139.0,536.2 L139.2,534.1 L139.4,534.2 L139.6,533.4 L139.8,532.1 L140.0,533.0 L140.2,529.9 L140.4,530.9 L140.8,528.9 L141.1,530.5 L141.5,531.1 L141.9,530.4 L142.3,532.3 L142.6,532.6 L143.0,533.4 L143.1,534.5 L143.1,532.0 L143.2,529.3 L143.3,528.9 L143.3,530.1 L143.4,528.4 L143.4,527.1 L143.5,529.4 L143.6,529.4 L143.6,528.2 L143.7,529.2 L143.8,527.1 L143.8,527.2 L143.9,525.0 L144.0,524.6 L144.0,525.8 L144.1,526.7 L144.2,526.8 L144.2,524.4 L144.3,523.8 L144.4,522.1 L144.4,520.1 L144.5,520.3 L144.5,521.8 L144.6,522.4 L144.7,521.9 L144.7,522.4 L144.8,519.5 L145.0,518.2 L145.1,519.0 L145.3,518.8 L145.4,518.7 L145.6,519.8 L145.7,521.5 L145.9,522.1 L146.0,521.8 L146.2,524.2 L146.3,526.4 L146.5,525.5 L146.6,523.5 L146.8,522.5 L147.1,525.8 L147.4,524.1 L147.7,526.3 L148.0,527.1 L148.2,526.6 L148.5,528.6 L148.8,526.5 L149.1,526.1 L149.4,527.4 L149.8,526.4 L150.3,529.6 L150.7,528.9 L151.1,528.2 L151.5,527.6 L152.0,530.0 L152.4,530.7 L152.8,531.4 L153.2,531.7 L153.7,532.4 L154.1,533.3 L154.5,532.4 L155.0,529.7 L155.4,529.2 L155.8,527.5 L156.2,525.7 L156.5,526.5 L156.9,527.9 L157.2,526.1 L157.6,525.4 L157.9,525.2 L158.3,526.5 L158.4,526.1 L158.5,526.0 L158.6,526.4 L158.7,524.8 L158.8,525.5 L158.9,526.1 L159.0,522.6 L159.1,524.2 L159.2,523.9 L159.3,520.9 L159.4,520.5 L159.5,520.8 L159.6,521.9 L159.7,520.0 L159.8,519.6 L159.9,520.5 L160.0,520.4 L160.1,520.8 L160.3,519.6 L160.4,520.1 L160.6,518.5 L160.7,520.2 L160.9,521.8 L161.1,522.1 L161.2,522.8 L161.4,521.2 L161.6,523.6 L161.7,525.4 L161.9,526.7 L162.0,525.6 L162.2,526.4 L162.4,525.0 L162.6,527.0 L162.8,528.1 L163.0,526.7 L163.2,525.0 L163.4,525.8 L163.5,527.0 L163.7,528.8 L163.9,528.8 L164.1,527.0 L164.3,529.7 L164.5,528.1 L164.7,530.7 L165.0,529.5 L165.3,529.8 L165.5,532.2 L165.8,530.8 L166.1,530.4 L166.4,531.9 L166.7,533.9 L167.0,535.7 L167.2,536.2 L167.5,537.9 L167.8,537.0 L168.2,538.6 L168.6,535.8 L169.0,535.0 L169.4,536.1 L169.9,535.8 L170.3,537.7 L170.7,538.5 L171.1,538.5 L171.4,540.2 L171.8,540.1 L172.1,539.1 L172.4,539.1 L172.7,541.3 L173.1,543.0 L173.4,541.0 L173.7,543.0 L174.0,544.7 L174.3,544.0 L174.7,543.9 L175.0,542.5 L175.3,543.3 L175.6,543.9 L175.9,544.8 L176.3,543.0 L176.6,546.3 L176.9,546.3 L177.2,546.0 L177.5,547.8 L177.9,547.9 L178.2,547.8 L178.5,548.9 L178.8,546.9 L179.3,547.9 L179.8,548.0 L180.4,550.6 L180.9,552.0 L181.4,550.0 L181.7,550.1 L182.0,548.8 L182.2,549.7 L182.5,552.0 L182.8,553.8 L183.1,553.2 L183.3,552.3 L183.6,551.5 L183.9,553.1 L184.4,555.4 L184.9,553.2 L185.5,555.0 L186.0,552.7 L186.5,552.4 L187.0,552.0 L187.6,553.7 L188.1,553.0 L188.7,552.7 L189.2,553.6 L189.8,551.8 L190.3,553.4 L190.8,551.6 L191.3,552.2 L191.8,551.3 L192.2,550.6 L192.7,551.5 L193.2,551.6 L193.7,551.2 L194.2,551.2 L194.5,552.1 L194.8,551.2 L195.0,551.1 L195.3,553.1 L195.6,554.5 L195.9,554.9 L196.1,556.7 L196.4,556.9 L196.7,558.3 L197.1,556.4 L197.4,557.8 L197.8,559.0 L198.2,560.2 L198.6,558.5 L198.9,557.7 L199.3,560.1 L199.7,557.8 L200.0,559.8 L200.4,560.2 L200.7,556.9 L201.1,555.5 L201.4,556.6 L201.8,555.0 L202.2,553.4 L202.7,555.6 L203.1,554.8 L203.5,555.9 L204.0,553.5 L204.4,553.2 L204.8,554.2 L205.3,551.7 L205.7,551.0 L206.2,552.7 L206.6,554.6 L207.1,555.8 L207.6,552.7 L208.1,552.6 L208.6,553.5 L209.0,552.9 L209.5,553.3 L210.0,551.5 L210.5,550.1 L211.0,549.6 L211.4,549.1 L211.9,551.1 L212.4,552.2 L212.9,553.0 L213.4,551.7 L213.9,551.3 L214.5,551.2 L215.0,554.0 L215.6,556.3 L216.1,557.3 L216.7,554.3 L217.2,552.6 L217.5,555.1 L217.8,554.1 L218.1,554.7 L218.4,552.9 L218.8,552.3 L219.1,552.0 L219.4,551.3 L219.7,551.5 L220.0,548.8 L220.4,550.9 L220.8,552.8 L221.3,551.0 L221.7,551.4 L222.1,553.0 L222.5,552.5 L223.0,551.5 L223.4,550.9 L223.8,552.2 L224.2,550.9 L224.7,554.2 L225.1,555.7 L225.5,556.2 L226.0,557.3 L226.4,557.0 L226.8,556.0 L227.3,556.4 L227.7,556.4 L228.0,558.7 L228.3,559.4 L228.6,557.6 L229.0,559.6 L229.3,560.2 L229.6,560.9 L229.9,561.6 L230.2,560.4 L230.6,562.1 L230.9,563.1 L231.2,563.1 L231.5,563.5 L231.9,563.9 L232.2,562.7 L232.6,563.6 L233.0,561.4 L233.4,561.6 L233.7,562.4 L234.1,561.0 L234.3,562.0 L234.6,564.0 L234.8,565.2 L235.0,564.4 L235.2,567.3 L235.5,567.9 L235.7,567.0 L235.9,568.1 L236.1,568.5 L236.4,568.8 L236.6,568.5 L237.0,570.4 L237.3,569.8 L237.7,569.5 L238.1,569.4 L238.5,570.2 L238.8,566.3 L239.2,566.6 L239.5,567.9 L239.8,566.7 L240.1,566.8 L240.4,565.6 L240.6,565.7 L240.9,566.7 L241.2,566.3 L241.5,566.9 L241.8,570.3 L242.1,570.8 L242.5,571.1 L242.8,573.5 L243.1,573.2 L243.5,575.1 L243.8,574.8 L244.1,575.6 L244.5,572.9 L244.8,574.0 L245.0,574.6 L245.2,571.6 L245.4,573.6 L245.6,571.1 L245.8,570.9 L245.9,569.2 L246.1,569.6 L246.3,570.0 L246.5,567.7 L246.7,570.0 L246.9,568.8 L247.1,568.4 L247.4,568.3 L247.6,567.0 L247.8,565.7 L248.0,566.5 L248.3,566.2 L248.5,564.7 L248.7,565.5 L248.9,563.9 L249.2,561.6 L249.4,561.1 L249.9,560.5 L250.4,560.8 L251.0,563.6 L251.5,563.8 L252.0,566.2 L252.3,566.3 L252.6,563.0 L252.9,565.2 L253.2,566.0 L253.4,562.4 L253.7,563.9 L254.0,562.4 L254.3,561.7 L254.6,563.2 L255.0,560.8 L255.4,560.6 L255.9,562.2 L256.3,562.0 L256.7,560.6 L257.1,562.0 L257.6,561.9 L258.0,560.8 L258.4,557.9 L258.7,559.2 L259.0,559.3 L259.3,558.4 L259.6,557.5 L259.8,559.2 L260.1,558.6 L260.4,559.9 L260.7,561.8 L261.0,562.0 L261.5,561.4 L262.0,562.5 L262.5,562.6 L263.0,564.3 L263.5,564.3 L263.7,565.7 L264.0,566.1 L264.2,565.1 L264.4,562.2 L264.7,559.8 L264.9,561.7 L265.2,562.1 L265.4,561.4 L265.6,559.6 L265.9,558.1 L266.1,558.8 L266.3,558.5 L266.6,558.2 L266.8,558.1 L267.0,558.3 L267.2,555.7 L267.5,554.4 L267.7,556.6 L267.9,557.4 L268.1,557.4 L268.4,553.5 L268.6,551.3 L269.0,550.9 L269.3,551.1 L269.7,552.0 L270.1,550.0 L270.5,550.7 L270.8,548.8 L271.2,547.7 L271.5,550.3 L271.8,551.4 L272.1,552.5 L272.4,552.2 L272.6,552.6 L272.9,551.9 L273.2,552.3 L273.5,554.4 L273.8,556.2 L273.9,553.1 L274.1,551.3 L274.2,553.1 L274.4,553.1 L274.6,553.4 L274.7,551.0 L274.9,550.3 L275.0,548.9 L275.5,551.0 L276.0,550.3 L276.6,551.1 L277.1,553.2 L277.6,551.4 L277.9,551.8 L278.2,553.0 L278.5,554.7 L278.8,553.6 L279.0,552.9 L279.3,551.6 L279.6,554.4 L279.9,552.7 L280.2,552.0 L280.7,553.6 L281.1,554.2 L281.6,555.5 L282.1,554.6 L282.6,556.3 L283.1,554.2 L283.5,553.7 L284.0,555.5 L284.5,553.7 L284.9,553.6 L285.4,555.3 L285.9,556.0 L286.4,554.6 L286.9,553.1 L287.3,553.1 L287.8,554.7 L288.3,553.9 L288.8,552.3 L289.3,554.0 L289.8,554.2 L290.2,555.8 L290.7,556.7 L291.2,557.0 L291.7,555.0 L292.1,555.9 L292.5,554.3 L293.0,553.6 L293.4,553.7 L293.8,556.3 L294.2,557.6 L294.7,555.6 L295.1,555.2 L295.5,555.1 L296.0,555.0 L296.5,555.2 L297.0,555.3 L297.4,554.6 L297.9,555.9 L298.4,557.8 L298.9,557.7 L299.4,559.0 L299.8,558.9 L300.2,557.2 L300.5,559.1 L300.9,560.8 L301.3,559.3 L301.7,557.5 L302.1,558.8 L302.4,559.9 L302.8,560.7 L303.2,563.1 L303.6,562.5 L304.0,562.8 L304.5,559.5 L304.9,559.7 L305.3,560.8 L305.7,558.2 L306.2,556.6 L306.6,558.5 L307.0,560.1 L307.5,557.4 L308.0,558.2 L308.5,556.5 L308.9,558.1 L309.4,558.5 L309.9,556.8 L310.4,555.8 L310.9,557.5 L311.2,557.1 L311.6,557.7 L311.9,556.3 L312.2,555.1 L312.5,557.0 L312.9,556.6 L313.2,555.5 L313.5,554.8 L313.9,555.1 L314.2,555.1 L314.5,555.7 L314.7,553.6 L315.0,554.1 L315.2,553.5 L315.5,553.8 L315.7,553.5 L316.0,553.3 L316.4,553.3 L316.9,553.5 L317.3,552.0 L317.7,550.5 L318.2,550.4 L318.6,550.5 L318.7,548.6 L318.8,547.3 L318.9,545.2 L319.0,546.4 L319.1,548.0 L319.2,545.9 L319.3,543.6 L319.4,542.2 L319.5,542.2 L319.6,541.4 L319.7,543.7 L319.8,540.8 L319.9,540.0 L320.0,538.5 L320.1,539.8 L320.2,540.8 L320.3,538.6 L320.4,536.6 L320.5,537.0 L320.6,537.5 L320.8,539.0 L321.0,535.8 L321.1,534.1 L321.3,533.3 L321.5,532.7 L321.7,532.3 L321.9,533.9 L322.0,534.1 L322.2,532.3 L322.4,530.9 L322.6,531.3 L322.8,531.3 L323.0,534.1 L323.2,534.0 L323.4,535.1 L323.6,537.2 L323.8,537.0 L324.0,536.2 L324.2,538.8 L324.4,540.5 L324.6,539.2 L324.8,539.6 L324.9,541.9 L325.1,541.2 L325.3,540.0 L325.5,538.8 L325.7,542.3 L325.8,543.8 L326.0,543.0 L326.2,543.5 L326.7,543.6 L327.2,542.8 L327.8,545.6 L328.3,545.8 L328.8,544.1 L329.1,541.7 L329.4,542.2 L329.7,541.8 L330.0,543.3 L330.2,543.5 L330.5,543.0 L330.8,540.6 L331.1,539.0 L331.4,538.7 L331.6,538.0 L331.9,540.1 L332.1,539.5 L332.3,539.5 L332.5,540.8 L332.8,538.2 L333.0,537.7 L333.2,535.5 L333.4,536.8 L333.7,533.9 L333.9,535.7 L334.1,537.6 L334.2,538.7 L334.4,536.3 L334.6,536.0 L334.7,538.0 L334.9,536.6 L335.0,537.7 L335.2,538.5 L335.4,541.3 L335.5,541.4 L335.7,542.9 L336.0,541.5 L336.2,543.0 L336.5,542.5 L336.8,544.6 L337.0,542.3 L337.3,544.5 L337.5,543.2 L337.8,544.2 L338.3,544.6 L338.8,543.2 L339.2,545.5 L339.7,544.6 L340.2,544.1 L340.7,542.9 L341.1,543.3 L341.6,544.3 L342.1,546.1 L342.6,545.5 L343.0,546.7 L343.5,544.9 L344.0,545.3 L344.4,545.8 L344.9,548.4 L345.4,549.3 L345.8,549.3 L346.1,546.6 L346.5,546.9 L346.9,548.7 L347.3,547.8 L347.6,548.9 L348.0,549.2 L348.3,547.6 L348.6,551.2 L348.9,552.6 L349.2,550.9 L349.4,552.0 L349.7,551.4 L350.0,551.6 L350.3,552.6 L350.6,552.3 L350.7,552.6 L350.8,553.2 L351.0,555.0 L351.1,554.4 L351.2,554.1 L351.3,556.4 L351.4,556.2 L351.6,559.0 L351.7,559.1 L351.8,560.1 L351.9,558.1 L352.1,559.0 L352.2,556.1 L352.4,554.4 L352.5,553.1 L352.6,554.7 L352.8,555.5 L352.9,553.4 L353.0,553.0 L353.2,554.5 L353.3,554.0 L353.5,551.3 L353.6,550.2 L354.1,549.3 L354.6,548.7 L355.1,549.4 L355.5,548.3 L356.0,551.4 L356.5,550.8 L357.0,550.7 L357.3,551.8 L357.6,553.2 L357.8,554.3 L358.1,553.2 L358.4,552.6 L358.6,552.8 L358.9,551.3 L359.2,552.4 L359.5,554.5 L359.8,557.1 L360.0,557.9 L360.3,557.9 L360.5,557.0 L360.8,553.7 L361.0,553.0 L361.2,552.5 L361.4,553.4 L361.7,551.2 L361.9,551.0 L362.1,551.3 L362.6,552.7 L363.1,553.5 L363.5,553.0 L364.0,550.5 L364.5,551.8 L364.9,553.0 L365.4,552.0 L365.9,550.4 L366.3,550.8 L366.6,549.5 L367.0,551.6 L367.3,554.1 L367.7,553.5 L368.0,554.3 L368.4,555.4 L368.7,553.4 L369.1,555.8 L369.4,555.8 L369.8,554.2 L369.9,552.0 L370.1,551.3 L370.2,552.1 L370.4,552.8 L370.6,551.4 L370.7,553.0 L370.9,551.1 L371.0,550.3 L371.3,548.2 L371.6,550.6 L372.0,548.1 L372.3,549.9 L372.6,549.1 L373.0,548.6 L373.3,548.1 L373.6,546.3 L374.0,548.1 L374.3,549.2 L374.7,548.9 L375.1,547.6 L375.5,544.6 L375.8,545.9 L376.2,544.1 L376.6,546.4 L377.0,544.9 L377.3,545.7 L377.7,547.5 L378.1,545.8 L378.5,546.6 L378.9,545.2 L379.2,544.3 L379.6,544.7 L380.0,548.6 L380.5,550.4 L381.0,550.1 L381.5,548.4 L382.0,549.1 L382.6,549.7 L383.1,548.5 L383.6,548.8 L384.1,549.9 L384.6,547.0 L385.1,546.2 L385.6,546.8 L386.1,545.7 L386.6,546.1 L387.1,547.1 L387.6,545.8 L388.2,546.6 L388.7,545.8 L389.2,546.7 L389.7,546.1 L390.2,547.1 L390.7,545.0 L391.2,546.6 L391.8,545.2 L392.3,548.1 L392.8,548.0 L393.3,547.4 L393.8,546.8 L394.4,547.5 L394.9,548.1 L395.4,548.7 L395.9,548.9 L396.3,547.7 L396.8,549.3 L397.3,549.4 L397.8,549.4 L398.2,547.4 L398.7,546.3 L399.2,546.2 L399.3,547.3 L399.3,545.9 L399.4,545.0 L399.5,543.8 L399.6,545.0 L399.6,542.9 L399.7,540.3 L399.8,541.6 L399.8,542.8 L399.9,542.6 L400.0,541.6 L400.1,541.5 L400.1,539.3 L400.2,539.1 L400.3,536.4 L400.4,535.0 L400.4,535.4 L400.5,535.6 L400.6,535.0 L400.6,533.0 L400.7,534.4 L400.8,534.3 L400.9,532.7 L400.9,531.9 L401.0,531.6 L401.2,530.5 L401.3,529.0 L401.5,531.7 L401.6,533.1 L401.8,532.4 L402.0,532.7 L402.1,530.7 L402.3,531.0 L402.5,528.4 L402.6,529.1 L402.8,528.5 L403.0,529.4 L403.1,526.1 L403.3,527.2 L403.4,524.6 L403.6,524.8 L403.9,527.4 L404.1,524.9 L404.4,524.8 L404.6,525.2 L404.9,525.8 L405.1,525.1 L405.4,528.7 L405.6,530.5 L405.8,528.9 L406.1,527.6 L406.3,527.7 L406.5,525.2 L406.8,523.6 L407.0,526.3 L407.3,524.9 L407.5,524.8 L407.7,526.5 L408.0,527.4 L408.2,525.4 L408.4,523.9 L408.6,523.7 L408.8,526.6 L409.0,528.3 L409.2,526.4 L409.4,528.3 L409.5,527.5 L409.7,527.8 L409.9,526.9 L410.1,529.7 L410.3,532.0 L410.5,530.0 L410.7,531.0 L411.0,529.7 L411.3,532.3 L411.6,530.2 L411.9,529.6 L412.1,532.1 L412.4,531.9 L412.7,534.5 L413.0,536.1 L413.3,536.4 L413.6,533.4 L413.9,534.0 L414.1,535.2 L414.4,533.5 L414.7,530.7 L415.0,529.7 L415.2,529.3 L415.5,530.6 L415.8,528.9 L415.9,527.6 L416.1,526.9 L416.2,528.2 L416.4,529.2 L416.5,527.7 L416.6,527.9 L416.8,528.8 L416.9,527.7 L417.1,525.3 L417.2,524.1 L417.3,525.9 L417.5,525.6 L417.6,523.4 L417.8,523.6 L417.9,521.1 L418.1,523.4 L418.3,522.0 L418.4,521.4 L418.6,520.9 L418.8,518.2 L419.0,519.0 L419.2,517.8 L419.3,516.7 L419.5,518.4 L419.7,515.9 L419.8,515.2 L419.9,516.6 L420.0,515.0 L420.1,514.0 L420.2,514.4 L420.3,512.8 L420.4,514.8 L420.5,516.1 L420.6,512.4 L420.7,512.0 L420.8,512.9 L420.9,511.5 L421.0,512.9 L421.1,511.6 L421.2,509.2 L421.3,509.4 L421.4,509.6 L421.5,508.3 L421.6,509.6 L421.7,511.1 L421.8,511.0 L421.9,511.1 L422.1,512.9 L422.2,513.4 L422.3,513.1 L422.4,515.1 L422.5,513.0 L422.6,514.8 L422.7,513.2 L422.8,514.6 L422.9,513.9 L423.1,514.6 L423.2,516.7 L423.3,518.2 L423.4,519.2 L423.5,517.5 L423.6,518.0 L423.7,517.2 L423.8,518.6 L423.9,519.3 L424.0,517.8 L424.1,519.7 L424.2,521.5 L424.3,522.0 L424.4,523.9 L424.5,522.1 L424.6,521.2 L424.7,520.3 L424.8,522.2 L424.9,523.1 L425.0,523.9 L425.1,523.8 L425.2,526.3 L425.3,524.7 L425.4,527.7 L425.5,528.1 L425.6,528.4 L425.8,528.9 L426.1,526.6 L426.3,524.6 L426.5,524.1 L426.7,522.4 L426.9,522.4 L427.2,523.6 L427.4,523.6 L427.5,523.2 L427.5,524.6 L427.6,523.4 L427.7,526.2 L427.7,525.2 L427.8,525.1 L427.8,525.0 L427.9,527.4 L428.0,529.6 L428.0,530.8 L428.1,528.6 L428.2,529.1 L428.2,529.4 L428.3,529.1 L428.4,532.5 L428.4,530.5 L428.5,531.6 L428.6,533.7 L428.6,536.0 L428.7,533.8 L428.8,534.2 L428.8,535.9 L428.9,534.0 L428.9,534.0 L429.0,537.1 L429.1,535.8 L429.1,536.3 L429.2,536.5 L429.3,537.3 L429.3,536.5 L429.4,536.1 L429.5,540.3 L429.5,541.8 L429.6,542.8 L429.7,541.3 L429.7,540.8 L429.8,542.1 L429.9,541.6 L429.9,542.6 L430.0,545.4 L430.0,544.7 L430.1,544.4 L430.2,547.3 L430.2,547.5 L430.3,545.3 L430.4,545.9 L430.4,547.6 L430.5,546.1 L430.6,546.8 L430.6,548.9 L430.7,551.0 L431.2,550.9 L431.7,552.2 L432.2,551.0 L432.8,550.2 L433.3,551.8 L433.8,550.7 L434.3,552.0 L434.8,550.3 L435.2,550.0 L435.7,549.3 L436.2,550.6 L436.7,549.7 L437.1,549.5 L437.6,549.5 L438.0,550.9 L438.4,551.2 L438.7,552.1 L439.1,555.1 L439.5,555.6 L439.9,556.9 L440.3,554.8 L440.6,554.7 L441.0,553.4 L441.4,555.6 L441.7,555.5 L442.0,555.3 L442.4,554.3 L442.7,554.6 L443.0,555.3 L443.4,556.5 L443.7,559.7 L444.0,560.7 L444.3,559.5 L444.6,559.4 L445.0,558.6 L445.3,561.9 L445.7,561.2 L446.1,562.9 L446.4,563.8 L446.8,565.2 L447.2,562.3 L447.6,562.2 L448.0,562.6 L448.3,561.7 L448.7,564.8 L449.1,564.3 L449.6,565.5 L450.1,564.9 L450.7,562.5 L451.2,562.5 L451.7,561.7 L451.9,560.0 L452.1,559.4 L452.3,560.8 L452.5,558.8 L452.7,558.8 L452.9,559.0 L453.0,559.4 L453.2,557.7 L453.4,559.0 L453.6,557.5 L453.8,558.5 L454.0,558.6 L454.2,556.2 L454.4,554.8 L454.6,554.2 L454.8,555.6 L455.0,554.7 L455.2,554.0 L455.4,555.4 L455.6,553.2 L455.8,552.0 L456.0,551.4 L456.2,550.3 L456.4,548.7 L456.6,547.5 L456.8,549.3 L457.1,549.8 L457.4,551.0 L457.7,552.2 L458.0,549.7 L458.2,549.8 L458.5,550.7 L458.8,547.9 L459.1,548.3 L459.4,548.2 L459.6,549.2 L459.8,549.2 L460.1,546.2 L460.3,546.1 L460.5,543.4 L460.7,543.2 L461.0,542.8 L461.2,540.9 L461.4,541.0 L461.6,540.7 L461.9,541.0 L462.1,540.0 L462.3,538.8 L462.5,538.9 L462.8,539.2 L463.0,537.7 L463.2,538.9 L463.5,537.5 L463.8,535.9 L464.1,535.9 L464.5,536.1 L464.8,534.8 L465.1,535.8 L465.4,536.7 L465.7,536.3 L466.1,536.6 L466.4,533.6 L466.7,533.3 L467.0,532.9 L467.3,531.2 L467.6,531.5 L467.9,530.0 L468.2,530.9 L468.5,531.7 L468.8,531.4 L469.1,530.4 L469.4,529.4 L469.7,527.6 L470.0,527.9 L470.3,530.2 L470.6,529.9 L470.9,528.2 L471.4,529.2 L472.0,527.5 L472.5,527.7 L473.1,528.4 L473.6,530.2 L474.2,528.5 L474.7,528.4 L475.0,529.7 L475.4,529.4 L475.7,528.4 L476.0,527.6 L476.3,526.1 L476.6,525.1 L477.0,523.7 L477.3,525.2 L477.6,526.1 L478.0,524.1 L478.3,525.2 L478.6,521.8 L479.0,520.3 L479.4,520.9 L479.9,520.3 L480.3,520.1 L480.7,522.5 L481.1,520.1 L481.6,518.9 L482.0,518.2 L482.4,519.7 L482.9,518.9 L483.3,517.5 L483.8,519.2 L484.3,519.5 L484.8,519.1 L485.2,520.0 L485.7,521.3 L486.2,521.7 L486.4,521.6 L486.7,521.1 L486.9,521.8 L487.1,522.6 L487.4,520.0 L487.6,518.4 L487.9,519.7 L488.1,517.7 L488.3,518.1 L488.6,518.1 L488.8,517.8 L489.2,519.5 L489.6,520.0 L489.9,517.5 L490.3,518.4 L490.7,518.5 L491.1,519.0 L491.5,518.6 L491.8,518.2 L492.2,520.2 L492.6,520.5 L493.0,518.9 L493.5,517.9 L493.9,517.6 L494.3,516.6 L494.8,517.4 L495.2,516.0 L495.6,514.9 L496.1,514.1 L496.5,513.7 L496.9,516.0 L497.2,514.4 L497.6,514.9 L497.9,516.4 L498.3,515.8 L498.6,513.9 L499.0,515.8 L499.3,517.5 L499.6,515.0 L500.0,514.7 L500.3,515.9 L500.6,518.0 L500.9,517.5 L501.3,518.9 L501.6,517.8 L501.9,519.5 L502.2,518.8 L502.6,518.7 L502.9,520.7 L503.3,521.7 L503.7,522.0 L504.2,520.9 L504.6,519.5 L505.0,519.9 L505.4,519.6 L505.9,520.2 L506.3,520.3 L506.7,517.2 L507.2,517.0 L507.7,518.2 L508.2,517.0 L508.6,516.2 L509.1,515.1 L509.6,517.1 L510.1,519.8 L510.6,521.5 L511.1,518.5 L511.6,519.1 L512.1,518.2 L512.6,518.5 L513.1,517.6 L513.6,519.3 L514.0,520.2 L514.3,516.4 L514.7,517.0 L514.7,514.5 L514.8,512.5 L514.8,512.2 L514.8,513.8 L514.8,515.6 L514.9,512.6 L514.9,511.6 L514.9,509.5 L514.9,510.3 L515.0,510.3 L515.0,509.6 L515.0,508.7 L515.0,510.1 L515.1,510.9 L515.1,508.6 L515.1,507.6 L515.1,507.8 L515.2,508.3 L515.2,509.3 L515.2,507.1 L515.2,507.9 L515.3,508.0 L515.3,509.4 L515.4,507.5 L515.4,506.8 L515.4,506.3 L515.5,509.9 L515.5,509.1 L515.5,510.0 L515.6,509.0 L515.6,509.6 L515.7,508.9 L515.7,511.1 L515.7,510.6 L515.8,512.8 L515.8,512.6 L515.9,512.5 L515.9,513.8 L516.1,514.3 L516.3,514.3 L516.6,513.6 L516.8,513.5 L517.0,517.3 L517.5,516.5 L518.0,515.1 L518.5,514.8 L519.0,515.9 L519.5,518.8 L519.7,517.4 L520.0,519.7 L520.2,519.5 L520.4,519.3 L520.7,521.2 L520.9,520.6 L521.2,519.0 L521.4,520.4 L521.6,521.9 L521.9,522.8 L522.1,522.0 L522.5,524.6 L522.9,525.9 L523.2,527.3 L523.6,525.9 L524.0,527.0 L524.4,527.3 L524.8,525.2 L525.1,523.6 L525.5,523.5 L525.9,523.4 L526.2,523.4 L526.5,524.8 L526.7,527.6 L527.0,527.3 L527.3,528.3 L527.6,526.9 L527.9,527.1 L528.2,530.8 L528.4,528.8 L528.7,530.3 L529.0,532.5 L529.3,533.7 L529.7,534.4 L530.0,533.4 L530.3,534.8 L530.6,535.9 L531.0,536.4 L531.3,537.8 L531.6,534.8 L532.0,537.1 L532.3,536.1 L532.3,537.2 L532.4,536.0 L532.4,538.5 L532.5,536.2 L532.5,537.6 L532.6,537.0 L532.6,537.7 L532.7,538.2 L532.7,539.9 L532.8,541.8 L532.8,541.1 L532.9,542.1 L532.9,541.7 L533.0,541.3 L533.0,544.1 L533.0,543.3 L533.1,542.1 L533.1,542.7 L533.2,545.1 L533.2,544.3 L533.3,546.4 L533.3,546.9 L533.4,548.0 L533.4,546.6 L533.5,545.8 L533.5,545.7 L533.6,546.8 L533.6,548.0 L533.6,549.5 Z" fill="#4db1f1"/>
<line x1="81" y1="549.5" x2="536" y2="549.5" stroke="#e6e6e6" stroke-width="2"/>
<line x1="81.5" y1="549.5" x2="81.5" y2="554.5" stroke="#d4d4d4" stroke-width="1.2"/>
<line x1="119.9" y1="549.5" x2="119.9" y2="554.5" stroke="#d4d4d4" stroke-width="1.2"/>
<line x1="158.3" y1="549.5" x2="158.3" y2="554.5" stroke="#d4d4d4" stroke-width="1.2"/>
<line x1="196.7" y1="549.5" x2="196.7" y2="554.5" stroke="#d4d4d4" stroke-width="1.2"/>
<line x1="235.1" y1="549.5" x2="235.1" y2="554.5" stroke="#d4d4d4" stroke-width="1.2"/>
<line x1="273.5" y1="549.5" x2="273.5" y2="554.5" stroke="#d4d4d4" stroke-width="1.2"/>
<line x1="311.9" y1="549.5" x2="311.9" y2="554.5" stroke="#d4d4d4" stroke-width="1.2"/>
<line x1="350.3" y1="549.5" x2="350.3" y2="554.5" stroke="#d4d4d4" stroke-width="1.2"/>
<line x1="388.7" y1="549.5" x2="388.7" y2="554.5" stroke="#d4d4d4" stroke-width="1.2"/>
<line x1="427.1" y1="549.5" x2="427.1" y2="554.5" stroke="#d4d4d4" stroke-width="1.2"/>
<line x1="465.5" y1="549.5" x2="465.5" y2="554.5" stroke="#d4d4d4" stroke-width="1.2"/>
<line x1="503.9" y1="549.5" x2="503.9" y2="554.5" stroke="#d4d4d4" stroke-width="1.2"/>
<path d="M84.3,445.0 L84.3,446.2 L84.3,447.3 L84.3,448.6 L84.3,449.0 L84.3,450.1 L84.3,448.3 L84.3,448.9 L84.3,450.9 L84.3,451.4 L84.3,452.8 L84.3,451.4 L84.3,452.0 L84.3,452.0 L84.3,453.2 L84.5,454.1 L84.7,453.2 L84.9,453.6 L85.1,454.3 L85.3,456.8 L85.6,458.0 L85.8,457.1 L86.0,458.8 L86.2,458.0 L86.4,459.3 L86.6,458.8 L87.2,458.1 L87.7,460.6 L88.3,460.1 L88.8,460.0 L89.4,462.5 L89.9,463.6 L90.5,462.7 L90.8,463.4 L91.2,462.3 L91.5,461.8 L91.9,459.9 L92.2,460.8 L92.6,460.3 L92.9,460.6 L93.3,460.3 L93.6,458.1 L93.8,456.8 L94.0,455.2 L94.1,454.0 L94.3,452.9 L94.5,452.7 L94.7,453.2 L94.9,451.5 L95.1,452.3 L95.2,451.4 L95.4,450.6 L95.6,451.4 L96.0,451.7 L96.3,451.6 L96.7,452.3 L97.1,453.6 L97.5,452.6 L97.8,455.1 L98.2,453.8 L98.5,455.5 L98.8,457.0 L99.2,455.6 L99.5,457.3 L99.8,457.3 L100.1,458.1 L100.4,457.1 L100.7,456.9 L101.0,457.5 L101.4,460.3 L101.7,459.9 L102.0,461.5 L102.3,463.2 L102.6,464.4 L103.0,463.5 L103.3,463.3 L103.6,463.9 L103.9,465.3 L104.2,464.2 L104.5,465.8 L104.8,467.1 L105.2,468.2 L105.5,466.6 L105.8,468.7 L106.2,467.5 L106.5,467.9 L106.9,469.1 L107.3,471.0 L107.7,470.5 L108.0,472.2 L108.4,472.3 L108.9,470.9 L109.4,469.9 L109.8,468.7 L110.3,467.5 L110.8,466.9 L111.2,467.9 L111.7,469.2 L112.2,467.2 L112.5,465.5 L112.8,467.1 L113.0,466.4 L113.3,465.4 L113.6,464.1 L113.9,464.2 L114.2,464.8 L114.5,463.7 L114.8,462.8 L115.0,460.9 L115.3,462.2 L115.6,460.1 L115.8,460.0 L116.0,460.7 L116.2,458.7 L116.4,459.1 L116.6,459.7 L116.8,458.8 L117.0,458.5 L117.2,456.1 L117.4,455.4 L117.6,453.9 L117.8,454.9 L118.0,453.6 L118.2,453.0 L118.4,454.1 L118.6,454.0 L118.8,455.2 L119.0,454.6 L119.2,454.6 L119.4,455.6 L119.6,455.7 L119.8,455.4 L120.0,455.9 L120.2,455.6 L120.4,456.4 L120.6,459.0 L120.8,460.6 L121.0,460.7 L121.2,460.7 L121.6,460.3 L122.1,459.5 L122.5,459.8 L122.9,461.7 L123.4,463.2 L123.8,462.7 L124.0,462.9 L124.3,462.7 L124.5,462.1 L124.7,461.4 L125.0,461.0 L125.2,459.3 L125.4,459.2 L125.6,457.6 L125.9,457.0 L126.1,457.3 L126.3,457.0 L126.6,455.3 L126.8,456.1 L127.1,455.4 L127.4,454.6 L127.6,452.2 L127.9,452.3 L128.2,451.2 L128.5,451.6 L128.8,450.9 L129.1,451.4 L129.3,450.9 L129.6,450.9 L129.9,449.2 L130.2,449.0 L130.6,449.9 L131.0,450.8 L131.4,450.1 L131.9,451.4 L132.3,452.4 L132.7,452.6 L133.0,452.7 L133.3,452.5 L133.6,450.8 L133.9,449.6 L134.1,447.6 L134.4,448.3 L134.7,448.7 L135.0,447.3 L135.3,446.9 L135.6,447.6 L135.8,448.4 L136.1,447.3 L136.3,448.9 L136.6,449.4 L136.8,450.2 L137.1,450.2 L137.3,451.0 L137.6,452.2 L137.8,452.7 L138.1,453.5 L138.3,452.2 L138.6,452.1 L138.8,453.1 L138.9,454.6 L139.1,454.4 L139.3,456.0 L139.5,456.9 L139.6,456.0 L139.8,457.0 L140.0,457.1 L140.2,456.9 L140.3,457.3 L140.5,458.3 L140.7,458.8 L140.9,459.3 L141.0,459.4 L141.2,461.0 L141.3,460.7 L141.4,461.0 L141.4,460.8 L141.5,459.3 L141.6,460.2 L141.7,457.8 L141.7,457.3 L141.8,456.5 L141.9,456.1 L142.0,454.7 L142.1,455.8 L142.1,454.8 L142.2,453.0 L142.3,453.4 L142.4,451.8 L142.5,452.0 L142.5,451.2 L142.6,451.2 L142.7,452.1 L142.8,451.9 L142.8,450.3 L142.9,450.3 L143.0,449.5 L143.1,448.0 L143.2,446.2 L143.2,446.3 L143.3,446.0 L143.4,446.7 L143.5,446.9 L143.5,445.6 L143.6,443.9 L143.7,444.3 L143.8,441.5 L143.9,440.1 L143.9,440.4 L144.0,440.4 L144.1,438.7 L144.2,439.0 L144.3,439.6 L144.3,438.2 L144.4,437.3 L144.5,435.9 L144.6,435.0 L144.6,436.3 L144.7,435.0 L144.8,435.7 L145.0,436.9 L145.2,436.8 L145.5,436.1 L145.7,438.0 L145.9,437.9 L146.1,437.9 L146.4,437.8 L146.6,440.0 L146.8,440.0 L147.1,439.7 L147.4,440.3 L147.7,439.9 L148.0,441.4 L148.2,441.9 L148.5,442.1 L148.8,443.8 L149.1,445.2 L149.4,443.8 L149.7,444.8 L150.0,444.9 L150.2,447.1 L150.5,448.2 L150.8,447.4 L151.1,447.3 L151.3,447.1 L151.6,449.8 L151.9,449.5 L152.2,449.3 L152.5,448.6 L152.7,448.4 L153.0,447.9 L153.3,447.8 L153.6,445.6 L153.9,446.1 L154.2,444.7 L154.4,444.4 L154.7,443.3 L155.0,442.4 L155.4,442.4 L155.8,442.0 L156.2,441.2 L156.7,441.8 L157.1,441.4 L157.5,439.3 L157.9,438.5 L158.3,438.5 L158.5,439.6 L158.6,439.8 L158.8,438.7 L159.0,436.2 L159.1,436.8 L159.3,435.9 L159.4,435.5 L159.6,435.5 L159.8,435.0 L159.9,434.0 L160.1,434.4 L160.4,434.0 L160.7,434.1 L161.0,435.7 L161.3,435.0 L161.5,435.1 L161.8,437.0 L162.1,436.0 L162.4,438.1 L162.7,439.0 L162.9,439.0 L163.0,438.9 L163.2,440.5 L163.3,442.1 L163.5,440.9 L163.6,441.5 L163.8,442.3 L163.9,442.9 L164.1,443.0 L164.2,442.7 L164.4,444.2 L164.5,445.9 L164.7,444.9 L164.9,445.1 L165.2,447.2 L165.4,448.5 L165.6,449.2 L165.9,447.9 L166.1,449.5 L166.4,451.4 L166.6,452.8 L166.8,452.9 L167.1,451.3 L167.3,453.1 L167.7,451.4 L168.1,451.5 L168.5,452.3 L168.9,451.8 L169.2,449.5 L169.6,448.6 L170.0,449.7 L170.4,447.8 L170.6,449.0 L170.8,449.3 L171.0,449.0 L171.2,450.5 L171.4,449.8 L171.6,449.9 L171.7,451.1 L171.9,451.0 L172.1,451.3 L172.3,453.2 L172.5,455.0 L172.7,456.7 L172.9,455.7 L173.3,456.1 L173.7,456.2 L174.1,457.4 L174.6,457.9 L175.0,459.7 L175.4,459.3 L175.8,458.3 L176.2,459.9 L176.6,459.4 L176.9,460.8 L177.3,461.5 L177.7,463.3 L178.1,463.5 L178.4,464.1 L178.8,463.5 L179.3,464.3 L179.8,464.0 L180.2,465.6 L180.7,465.9 L181.2,465.2 L181.7,465.3 L182.1,466.0 L182.6,467.7 L183.0,467.1 L183.5,468.6 L183.9,469.4 L184.3,468.3 L184.8,469.7 L185.2,468.9 L185.6,468.8 L186.1,470.3 L186.5,470.2 L187.1,472.1 L187.8,472.0 L188.4,471.6 L189.0,472.9 L189.7,471.4 L190.3,472.8 L190.5,470.8 L190.8,469.8 L191.0,471.3 L191.2,471.1 L191.5,469.4 L191.7,467.8 L192.0,469.3 L192.2,468.9 L192.4,468.9 L192.7,466.6 L192.9,466.5 L193.2,466.6 L193.5,466.5 L193.7,467.0 L194.0,468.4 L194.3,468.6 L194.6,469.1 L194.9,468.9 L195.2,471.1 L195.4,472.1 L195.7,473.3 L196.0,473.2 L196.4,474.5 L196.8,474.4 L197.2,474.9 L197.7,475.3 L198.1,476.2 L198.5,475.9 L198.9,475.1 L199.3,474.6 L199.7,474.2 L200.1,473.3 L200.6,475.1 L201.0,474.7 L201.4,475.1 L201.8,472.9 L202.3,472.9 L202.7,473.9 L203.1,473.5 L203.8,472.7 L204.4,472.3 L205.1,470.9 L205.7,470.1 L206.3,469.7 L207.0,469.9 L207.4,469.7 L207.7,470.8 L208.1,469.0 L208.4,468.1 L208.8,467.4 L209.1,466.4 L209.5,466.0 L209.9,466.4 L210.4,467.5 L210.8,466.9 L211.2,469.5 L211.7,469.4 L212.1,471.3 L212.5,471.8 L213.0,472.2 L213.4,472.0 L213.9,472.6 L214.3,470.2 L214.8,470.3 L215.3,469.1 L215.8,469.3 L216.2,469.4 L216.7,467.5 L217.2,466.4 L217.9,465.5 L218.6,465.6 L219.3,465.3 L220.0,466.0 L220.6,468.4 L221.3,467.9 L221.9,467.6 L222.5,468.0 L223.2,467.8 L223.8,469.1 L224.4,470.0 L224.9,469.0 L225.5,468.9 L226.0,470.2 L226.6,472.0 L227.1,472.2 L227.7,471.8 L228.0,473.6 L228.3,472.0 L228.5,471.5 L228.8,473.7 L229.1,474.0 L229.4,473.3 L229.6,474.7 L229.9,477.1 L230.2,477.3 L230.5,477.1 L230.8,476.5 L231.1,476.3 L231.4,479.0 L231.6,479.5 L231.9,481.3 L232.2,480.0 L232.5,480.0 L232.8,479.7 L233.3,480.7 L233.8,480.5 L234.4,481.1 L234.9,482.1 L235.4,482.5 L235.9,482.1 L236.6,481.4 L237.2,483.7 L237.9,482.5 L238.5,482.7 L239.2,482.4 L239.7,482.4 L240.3,480.9 L240.8,480.6 L241.4,479.6 L241.9,480.2 L242.5,481.5 L243.0,481.1 L243.6,481.5 L244.1,479.6 L244.7,477.8 L245.2,478.2 L245.8,478.1 L246.3,478.2 L246.9,477.4 L247.3,478.5 L247.6,479.7 L248.0,481.1 L248.3,480.4 L248.7,480.6 L249.0,482.1 L249.4,481.4 L249.8,480.9 L250.1,481.5 L250.5,481.4 L250.9,483.6 L251.3,485.2 L251.6,484.8 L252.0,484.3 L252.2,483.0 L252.5,482.5 L252.7,481.5 L252.9,481.7 L253.2,482.0 L253.4,480.9 L253.7,479.5 L253.9,480.4 L254.1,478.7 L254.4,477.9 L254.6,477.5 L255.1,477.5 L255.7,476.5 L256.2,476.7 L256.8,476.4 L257.3,477.4 L257.9,477.2 L258.4,477.9 L258.8,478.3 L259.1,479.1 L259.5,479.2 L259.9,479.2 L260.3,480.5 L260.6,481.0 L261.0,482.4 L261.6,481.8 L262.2,481.3 L262.9,479.6 L263.5,480.1 L263.8,478.7 L264.1,477.0 L264.4,475.6 L264.7,474.8 L264.9,474.4 L265.2,475.2 L265.5,474.2 L265.8,472.8 L266.1,473.8 L266.4,473.5 L266.7,471.5 L266.9,470.2 L267.2,469.5 L267.5,469.5 L267.8,470.8 L268.0,471.5 L268.3,470.6 L268.6,468.7 L269.2,468.4 L269.9,467.9 L270.6,467.4 L271.2,466.1 L271.9,467.0 L272.5,468.1 L272.9,468.1 L273.3,466.1 L273.8,466.0 L274.2,464.7 L274.6,465.4 L275.0,464.8 L275.4,466.8 L275.7,467.7 L276.1,466.4 L276.5,466.5 L276.9,468.6 L277.2,468.7 L277.6,468.9 L278.0,469.3 L278.3,470.7 L278.7,472.2 L279.1,472.1 L279.5,473.6 L279.8,473.5 L280.2,472.3 L280.8,473.4 L281.5,472.8 L282.1,471.4 L282.7,473.4 L283.4,471.7 L284.0,472.4 L284.6,472.3 L285.3,473.3 L285.9,472.3 L286.5,471.1 L287.2,470.6 L287.8,469.9 L288.4,471.0 L289.1,471.1 L289.8,472.4 L290.4,471.7 L291.1,471.7 L291.7,471.5 L292.2,473.1 L292.8,473.4 L293.4,473.4 L293.9,472.5 L294.4,471.2 L295.0,469.6 L295.6,470.9 L296.2,470.7 L296.9,469.2 L297.5,468.7 L298.1,468.3 L298.7,469.9 L299.3,471.3 L299.9,470.0 L300.5,471.1 L301.2,470.2 L301.8,470.9 L302.4,471.7 L303.0,471.3 L303.6,471.5 L304.2,470.3 L304.8,468.4 L305.5,468.8 L306.1,469.1 L306.7,468.0 L307.3,467.9 L307.9,467.6 L308.4,466.2 L308.8,466.2 L309.3,466.2 L309.8,466.3 L310.2,466.9 L310.7,466.1 L311.2,467.3 L311.6,467.2 L312.1,467.3 L312.6,466.6 L313.0,465.9 L313.5,464.9 L313.8,464.9 L314.2,463.3 L314.5,463.0 L314.8,462.8 L315.2,462.0 L315.5,460.6 L315.9,459.0 L316.2,457.9 L316.5,457.9 L316.9,458.3 L317.2,458.8 L317.3,458.7 L317.5,457.1 L317.6,457.9 L317.8,456.0 L317.9,456.1 L318.0,453.9 L318.2,454.5 L318.3,454.3 L318.5,454.8 L318.6,454.6 L318.8,453.6 L318.9,453.2 L319.0,452.5 L319.2,451.4 L319.3,449.3 L319.5,448.9 L319.6,449.5 L319.7,447.5 L319.7,448.4 L319.8,447.3 L319.8,446.0 L319.9,443.8 L319.9,443.5 L320.0,442.4 L320.0,443.0 L320.1,443.7 L320.1,443.9 L320.2,442.8 L320.2,441.3 L320.3,439.3 L320.4,439.7 L320.4,439.2 L320.5,439.2 L320.5,437.8 L320.6,438.4 L320.6,436.4 L320.7,435.3 L320.7,434.3 L320.8,434.5 L320.8,435.2 L320.9,433.1 L321.0,433.1 L321.0,433.2 L321.1,431.3 L321.2,429.5 L321.2,429.8 L321.3,430.5 L321.4,430.7 L321.5,430.1 L321.5,428.5 L321.6,427.4 L321.7,426.9 L321.7,427.4 L321.8,425.6 L321.9,425.5 L321.9,426.7 L322.0,428.7 L322.0,427.8 L322.1,427.1 L322.1,427.2 L322.2,428.9 L322.2,430.2 L322.3,430.0 L322.4,430.1 L322.4,431.7 L322.5,433.0 L322.5,434.1 L322.6,435.1 L322.6,433.9 L322.7,434.8 L322.8,436.7 L322.8,438.3 L322.9,437.6 L322.9,439.1 L323.0,439.5 L323.1,440.9 L323.1,439.9 L323.2,441.0 L323.2,442.3 L323.3,442.2 L323.4,441.3 L323.4,441.4 L323.5,441.6 L323.5,441.8 L323.6,442.3 L324.0,443.2 L324.4,442.0 L324.7,443.0 L325.1,443.3 L325.2,444.6 L325.3,445.6 L325.4,446.1 L325.5,447.3 L325.6,448.3 L325.8,448.2 L325.9,449.4 L326.0,447.7 L326.1,447.1 L326.2,446.9 L326.3,447.5 L326.4,448.7 L326.5,449.8 L326.7,451.3 L326.8,452.6 L326.9,451.6 L327.1,452.3 L327.2,453.4 L327.4,453.7 L327.5,453.4 L327.6,454.9 L327.8,455.4 L327.9,456.8 L328.0,457.3 L328.2,459.2 L328.3,460.5 L328.8,457.8 L329.2,458.2 L329.7,458.1 L330.1,456.6 L330.4,454.9 L330.7,454.7 L331.0,454.0 L331.3,454.5 L331.7,455.1 L332.0,453.5 L332.3,452.2 L332.6,451.8 L332.9,451.9 L333.5,452.1 L334.1,451.4 L334.7,450.0 L334.9,450.1 L335.1,452.1 L335.3,452.4 L335.5,451.4 L335.8,452.3 L336.0,452.5 L336.2,454.2 L336.4,453.6 L336.6,454.2 L336.9,454.1 L337.3,455.4 L337.6,457.9 L337.9,458.2 L338.3,458.1 L338.6,459.9 L339.0,458.6 L339.3,459.0 L339.6,460.7 L340.0,459.5 L340.3,461.3 L340.8,461.3 L341.4,460.4 L341.9,460.8 L342.4,461.8 L342.9,462.3 L343.5,463.1 L344.0,462.4 L344.3,462.9 L344.7,465.6 L345.0,465.8 L345.4,466.3 L345.7,465.6 L346.0,466.1 L346.4,468.6 L346.7,469.5 L347.2,469.6 L347.6,468.5 L348.1,469.1 L348.5,470.8 L349.0,470.9 L349.5,471.7 L349.9,473.2 L350.4,473.5 L350.9,473.0 L351.3,470.7 L351.8,469.2 L352.3,470.5 L352.7,469.9 L353.2,470.8 L353.4,472.0 L353.6,473.2 L353.7,472.5 L353.9,474.3 L354.1,474.8 L354.3,475.7 L354.5,474.3 L354.6,475.7 L354.8,475.7 L355.0,477.6 L355.3,478.8 L355.7,477.4 L356.0,477.5 L356.3,477.3 L356.7,478.0 L357.0,478.1 L357.4,479.5 L357.7,478.9 L358.0,478.9 L358.4,480.0 L358.7,479.7 L359.1,480.7 L359.5,483.0 L359.9,484.5 L360.3,483.5 L360.7,482.6 L361.1,484.8 L361.5,486.7 L361.8,485.7 L362.0,483.5 L362.3,482.4 L362.5,483.5 L362.8,483.9 L363.0,481.2 L363.3,479.9 L363.5,479.6 L363.8,478.7 L364.0,479.4 L364.3,478.4 L365.0,478.4 L365.5,477.6 L365.9,478.4 L366.4,480.4 L366.9,481.0 L367.3,479.6 L367.8,479.1 L368.2,480.8 L368.5,481.1 L368.9,481.6 L369.2,482.4 L369.6,483.4 L369.9,484.2 L370.2,482.2 L370.6,481.8 L370.9,480.3 L371.2,480.1 L371.5,480.3 L371.7,478.3 L371.9,478.0 L372.1,478.2 L372.3,475.9 L372.5,476.7 L372.7,475.8 L372.9,475.3 L373.1,475.0 L373.3,475.1 L373.9,473.0 L374.4,473.0 L375.0,471.4 L375.5,471.4 L376.1,471.2 L376.8,470.0 L377.5,470.1 L378.2,470.5 L378.9,471.3 L379.3,473.0 L379.8,472.6 L380.2,473.0 L380.7,474.0 L381.2,475.4 L381.6,476.4 L382.2,477.2 L382.7,475.8 L383.3,474.7 L383.8,476.6 L384.4,475.3 L385.1,475.7 L385.8,476.9 L386.5,477.0 L387.2,476.7 L387.7,477.7 L388.3,476.2 L388.8,475.9 L389.4,476.5 L389.9,474.5 L390.6,474.1 L391.3,474.1 L392.0,474.3 L392.7,473.2 L393.4,473.2 L394.1,472.0 L394.8,471.3 L395.5,471.5 L396.2,471.0 L396.9,473.1 L397.6,472.0 L398.3,471.3 L398.8,472.1 L399.2,472.2 L399.7,470.7 L400.1,471.3 L400.2,470.6 L400.4,469.3 L400.5,469.0 L400.6,467.4 L400.7,466.3 L400.9,467.3 L401.0,466.2 L401.1,466.8 L401.2,464.6 L401.4,463.0 L401.5,461.6 L401.6,462.6 L401.7,462.4 L401.9,460.3 L402.0,459.0 L402.2,460.4 L402.3,459.9 L402.5,460.5 L402.7,458.0 L402.8,458.1 L403.0,456.4 L403.1,457.0 L403.3,456.8 L403.5,456.4 L403.6,454.7 L403.8,455.7 L404.0,453.5 L404.2,451.9 L404.5,452.6 L404.7,451.0 L404.9,449.7 L405.2,450.0 L405.4,450.4 L405.6,451.1 L406.2,450.9 L406.8,448.6 L407.3,448.8 L407.9,449.4 L408.3,447.3 L408.8,447.8 L409.2,446.4 L409.7,445.5 L409.9,445.1 L410.1,447.3 L410.3,448.1 L410.5,450.0 L410.8,450.0 L411.0,449.4 L411.2,449.5 L411.4,450.0 L411.6,452.6 L412.0,452.0 L412.3,451.5 L412.7,452.3 L413.0,452.2 L413.4,453.4 L413.8,453.8 L414.2,453.9 L414.5,452.2 L414.9,451.0 L415.3,451.1 L415.4,451.5 L415.5,450.7 L415.6,450.3 L415.8,450.9 L415.9,448.6 L416.0,447.4 L416.1,447.2 L416.2,446.9 L416.4,447.6 L416.5,446.6 L416.6,446.1 L416.7,444.9 L416.8,445.0 L416.9,444.9 L417.0,443.0 L417.1,441.1 L417.2,440.2 L417.3,439.7 L417.4,440.8 L417.5,439.2 L417.6,439.2 L417.7,438.9 L417.8,439.4 L417.9,436.9 L418.0,437.2 L418.1,435.8 L418.2,434.0 L418.3,434.4 L418.4,434.9 L418.5,434.2 L418.6,431.9 L418.7,433.1 L418.8,431.8 L418.9,431.5 L419.0,431.3 L419.1,429.6 L419.2,428.8 L419.3,427.8 L419.4,426.3 L419.5,425.1 L419.6,426.2 L419.7,425.5 L419.8,426.3 L420.0,424.0 L420.1,423.2 L420.3,422.1 L420.4,423.5 L420.5,423.5 L420.7,423.6 L420.8,422.2 L421.0,419.9 L421.1,419.3 L421.3,418.2 L421.4,416.6 L421.7,417.1 L422.0,416.3 L422.3,415.0 L422.6,415.3 L422.9,416.4 L423.2,416.8 L423.4,416.5 L423.6,415.5 L423.8,417.2 L424.0,416.5 L424.2,417.7 L424.4,417.2 L424.6,419.9 L424.8,420.4 L425.0,420.6 L425.2,420.5 L425.3,421.5 L425.5,423.7 L425.6,423.5 L425.8,423.0 L425.9,423.9 L426.1,425.9 L426.3,425.7 L426.4,426.6 L426.6,428.2 L426.7,427.6 L426.9,429.0 L427.0,429.2 L427.2,428.4 L427.3,428.0 L427.5,430.7 L427.6,431.1 L427.8,431.5 L427.9,433.4 L428.1,433.7 L428.2,433.9 L428.4,433.7 L428.6,435.2 L428.7,434.9 L429.0,435.6 L429.3,437.1 L429.6,437.8 L430.0,437.0 L430.3,437.1 L430.6,438.9 L431.2,439.9 L431.8,438.7 L432.4,440.9 L432.9,438.9 L433.4,437.7 L433.8,436.6 L434.3,436.9 L435.0,437.8 L435.7,439.0 L436.4,437.6 L437.1,438.4 L437.6,437.6 L438.0,438.7 L438.5,438.6 L438.9,439.0 L439.4,438.6 L439.8,440.5 L440.0,440.1 L440.3,442.1 L440.5,442.2 L440.8,443.2 L441.0,444.2 L441.2,444.6 L441.5,446.2 L441.7,447.4 L441.9,446.5 L442.1,446.4 L442.4,448.2 L442.6,447.2 L442.8,447.8 L443.1,448.4 L443.3,450.6 L443.5,449.6 L443.8,450.9 L444.0,452.2 L444.2,453.1 L444.5,451.7 L444.8,454.0 L445.0,453.7 L445.4,455.3 L445.8,455.9 L446.2,455.7 L446.6,457.1 L447.0,457.6 L447.4,457.1 L447.8,458.2 L448.2,458.3 L448.7,459.1 L449.1,459.5 L449.5,460.4 L450.0,459.2 L450.4,459.8 L450.8,458.8 L451.3,460.8 L451.7,462.0 L452.3,462.3 L452.9,460.0 L453.6,460.0 L454.2,459.7 L454.4,458.1 L454.7,457.2 L454.9,458.7 L455.1,458.9 L455.4,457.0 L455.6,457.4 L455.9,456.8 L456.1,455.4 L456.3,455.2 L456.6,453.6 L456.8,452.5 L457.1,450.9 L457.4,451.7 L457.7,451.7 L458.0,451.9 L458.2,451.0 L458.5,450.1 L458.8,449.0 L459.1,449.4 L459.4,448.2 L459.8,449.1 L460.1,450.4 L460.5,450.3 L460.8,451.3 L461.2,450.2 L461.5,450.4 L461.9,452.6 L462.5,451.7 L463.0,451.1 L463.6,450.9 L464.1,453.1 L464.7,452.6 L465.2,453.5 L465.8,454.1 L466.3,455.8 L466.8,456.0 L467.2,456.4 L467.7,455.4 L468.2,457.3 L468.7,458.5 L469.1,459.0 L469.6,460.1 L470.0,460.2 L470.4,460.7 L470.9,461.7 L471.3,461.7 L471.7,460.1 L472.1,462.0 L472.6,463.5 L473.0,462.2 L473.4,461.3 L473.8,460.8 L474.2,459.6 L474.6,459.6 L475.0,458.5 L475.4,458.0 L475.7,456.9 L476.1,457.3 L476.5,456.9 L476.9,457.8 L477.3,457.0 L477.8,456.6 L478.2,459.0 L478.7,460.4 L479.2,460.7 L479.7,459.7 L480.2,459.9 L480.6,460.4 L481.1,460.7 L481.7,459.2 L482.2,459.4 L482.8,460.3 L483.3,460.4 L483.9,460.8 L484.4,460.3 L485.0,460.1 L485.3,460.0 L485.6,459.9 L485.9,459.2 L486.3,457.4 L486.6,456.9 L486.9,456.4 L487.2,456.6 L487.5,455.9 L487.9,454.5 L488.2,452.7 L488.5,451.9 L488.8,451.0 L489.2,452.6 L489.6,454.0 L489.9,453.2 L490.3,454.1 L490.7,455.7 L491.1,455.4 L491.5,454.7 L491.8,456.0 L492.2,456.3 L492.6,456.0 L493.2,455.6 L493.7,454.4 L494.3,454.0 L494.8,454.4 L495.4,453.5 L495.9,452.6 L496.5,453.5 L496.8,455.0 L497.2,455.2 L497.5,453.5 L497.8,454.2 L498.1,451.8 L498.5,450.4 L498.8,449.0 L499.1,448.2 L499.5,449.1 L499.8,449.9 L500.2,450.2 L500.6,451.6 L501.0,451.5 L501.4,453.1 L501.7,453.2 L502.1,453.3 L502.5,452.4 L502.9,453.0 L503.3,452.5 L503.7,453.2 L504.0,451.5 L504.4,450.6 L504.8,451.4 L505.2,449.4 L505.6,449.5 L505.9,448.3 L506.3,448.8 L506.7,448.6 L507.3,447.7 L507.8,449.2 L508.4,449.3 L508.9,449.2 L509.5,451.0 L510.0,451.9 L510.6,451.1 L510.8,451.0 L511.0,449.0 L511.2,448.8 L511.4,447.2 L511.6,447.7 L511.8,448.5 L511.9,447.8 L512.1,445.4 L512.3,445.2 L512.5,444.8 L512.7,444.1 L512.9,442.7 L513.1,442.0 L513.2,441.8 L513.3,440.3 L513.4,441.0 L513.5,439.9 L513.6,439.1 L513.7,437.8 L513.8,437.4 L513.9,438.9 L514.1,437.4 L514.2,435.8 L514.3,435.4 L514.4,436.7 L514.5,434.5 L514.6,433.9 L514.7,432.8 L514.8,433.4 L514.9,432.8 L515.0,432.3 L515.1,434.6 L515.2,434.5 L515.3,435.8 L515.4,436.1 L515.5,437.8 L515.6,436.6 L515.7,436.7 L515.8,437.2 L515.9,437.7 L516.0,439.9 L516.1,440.4 L516.2,440.5 L516.3,441.3 L516.4,443.1 L516.5,443.5 L516.6,443.6 L516.7,444.6 L516.8,445.3 L516.9,445.3 L517.0,445.6 L517.2,445.2 L517.5,446.1 L517.7,448.2 L517.9,447.9 L518.1,448.2 L518.4,449.3 L518.6,450.2 L518.8,449.6 L519.0,450.4 L519.3,452.0 L519.5,451.0 L519.9,450.9 L520.2,453.1 L520.6,455.0 L521.0,453.7 L521.4,453.3 L521.7,455.0 L522.1,455.2 L522.6,456.5 L523.0,455.6 L523.5,456.6 L524.0,456.5 L524.5,457.1 L525.0,458.8 L525.4,459.4 L525.9,460.9 L526.3,461.9 L526.8,462.0 L527.2,462.9 L527.6,461.6 L528.1,462.0 L528.5,461.9 L528.9,463.0 L529.4,462.2 L529.8,464.3 L530.4,463.9 L531.1,465.0 L531.7,466.2 L532.3,466.9 L533.0,465.7 L533.6,466.6" fill="none" stroke="#083fe5" stroke-width="7" stroke-linejoin="round" stroke-linecap="round"/>
<path d="M84.3,543.9 L84.6,542.5 L84.9,543.0 L85.2,541.3 L85.5,541.5 L85.8,540.9 L86.1,539.4 L86.4,539.7 L86.9,538.3 L87.3,538.5 L87.8,537.3 L88.3,536.6 L88.7,536.9 L89.2,538.2 L89.7,537.4 L90.2,537.5 L90.6,539.0 L91.1,541.0 L91.6,541.2 L92.0,541.0 L92.5,542.8 L93.0,541.3 L93.4,543.0 L93.9,542.5 L94.3,541.9 L94.7,541.7 L95.2,542.4 L95.6,544.5 L96.1,543.0 L96.5,543.2 L97.0,543.3 L97.5,542.3 L98.0,542.0 L98.5,540.2 L98.9,539.0 L99.4,538.6 L99.8,539.6 L100.3,539.2 L100.7,538.5 L101.1,538.7 L101.6,538.2 L102.0,537.3 L102.4,538.0 L102.9,538.0 L103.3,536.4 L103.9,536.5 L104.6,536.4 L105.2,537.2 L105.8,537.2 L106.5,535.7 L107.1,536.9 L107.7,535.4 L108.2,535.7 L108.8,537.1 L109.3,536.1 L109.9,536.8 L110.4,536.0 L111.0,537.6 L111.5,539.1 L112.0,539.5 L112.4,540.8 L112.9,540.1 L113.4,541.1 L113.8,541.5 L114.3,541.9 L114.8,542.0 L115.3,543.3 L115.9,544.5 L116.4,543.9 L117.0,544.3 L117.5,542.9 L118.1,544.2 L118.6,544.9 L119.2,545.8 L119.7,545.6 L120.3,543.7 L120.8,542.8 L121.4,543.0 L121.9,541.0 L122.5,541.0 L123.0,540.0 L123.6,539.2 L124.1,538.3 L124.7,539.9 L125.2,538.6 L125.8,538.1 L126.3,538.1 L126.9,540.1 L127.4,539.0 L128.0,539.7 L128.5,540.5 L129.1,542.1 L129.6,543.0 L130.2,543.7 L130.8,542.4 L131.5,542.2 L132.1,542.0 L132.7,543.6 L133.4,544.8 L134.0,543.1 L134.5,541.8 L135.1,541.0 L135.6,540.5 L136.2,540.8 L136.7,541.1 L137.3,540.1 L137.8,538.7 L138.2,538.8 L138.7,538.5 L139.1,538.7 L139.5,539.8 L139.9,539.4 L140.3,538.4 L140.8,537.9 L141.2,537.6 L141.5,536.5 L141.7,538.6 L142.0,539.7 L142.3,540.8 L142.6,541.5 L142.8,540.9 L143.1,540.9 L143.4,540.2 L143.7,541.7 L143.9,541.1 L144.2,541.0 L144.8,540.9 L145.5,540.5 L146.1,540.8 L146.8,540.0 L147.4,539.3 L148.1,539.2 L148.6,538.7 L149.1,539.0 L149.5,537.9 L150.0,539.7 L150.5,539.6 L150.9,538.0 L151.4,537.2 L151.9,536.9 L152.5,537.3 L153.0,537.0 L153.6,539.2 L154.1,541.0 L154.7,540.6 L155.2,540.6 L155.8,539.6 L156.3,539.2 L156.9,539.9 L157.4,540.2 L158.0,542.2 L158.5,541.5 L159.1,540.8 L159.6,543.4 L160.2,543.6 L160.9,542.6 L161.5,543.4 L162.1,542.3 L162.8,543.4 L163.4,545.4 L164.0,545.7 L164.5,545.1 L165.1,543.4 L165.6,542.6 L166.2,541.4 L166.7,542.3 L167.3,542.0 L167.8,542.4 L168.4,541.1 L168.9,539.9 L169.5,540.9 L170.0,541.7 L170.6,541.7 L171.1,541.3 L171.5,540.9 L172.0,540.3 L172.4,538.2 L172.8,537.7 L173.3,536.8 L173.7,535.1 L174.1,534.0 L174.6,533.9 L175.0,533.6 L175.5,534.6 L176.1,535.8 L176.6,534.8 L177.2,535.5 L177.7,535.9 L178.3,535.9 L178.8,533.9 L179.4,532.4 L180.1,531.5 L180.7,530.8 L181.3,530.4 L182.0,531.3 L182.6,532.5 L183.2,532.9 L183.7,531.9 L184.3,531.7 L184.8,532.0 L185.4,529.8 L185.9,530.3 L186.5,531.1 L187.1,531.6 L187.8,531.8 L188.4,531.1 L189.0,530.0 L189.7,531.2 L190.3,530.6 L190.9,531.8 L191.4,533.1 L192.0,532.2 L192.5,531.8 L193.1,533.3 L193.6,533.6 L194.2,532.2 L194.7,530.7 L195.1,529.8 L195.6,531.4 L196.1,531.8 L196.6,529.8 L197.1,530.6 L197.5,531.3 L198.0,530.5 L198.5,529.0 L199.1,528.6 L199.6,527.0 L200.2,525.6 L200.7,527.5 L201.3,527.5 L201.8,526.9 L202.5,528.2 L203.1,527.4 L203.8,528.3 L204.4,528.8 L205.0,527.2 L205.7,526.5 L206.2,525.8 L206.8,525.2 L207.3,525.7 L207.9,524.8 L208.4,524.6 L209.0,523.5 L209.5,525.1 L210.1,524.2 L210.6,523.8 L211.2,523.9 L211.7,524.8 L212.3,523.7 L212.8,524.4 L213.4,523.4 L213.9,522.9 L214.5,522.4 L215.0,520.5 L215.6,520.6 L216.1,519.7 L216.7,518.6 L217.2,520.2 L217.9,519.3 L218.6,519.6 L219.3,520.5 L220.0,520.4 L220.5,519.4 L221.1,519.2 L221.6,519.1 L222.2,519.5 L222.7,517.6 L223.3,517.7 L223.8,516.6 L224.2,515.8 L224.6,516.7 L225.0,516.1 L225.4,515.7 L225.8,515.9 L226.1,516.2 L226.5,514.7 L226.9,514.2 L227.3,513.4 L227.7,512.7 L228.0,512.6 L228.2,511.6 L228.5,511.0 L228.8,510.3 L229.1,511.0 L229.3,510.4 L229.6,510.4 L229.9,510.4 L230.1,508.0 L230.4,507.4 L230.7,508.0 L231.0,507.7 L231.2,505.2 L231.5,503.5 L231.9,503.3 L232.2,501.9 L232.6,501.3 L233.0,500.3 L233.4,501.3 L233.7,501.9 L234.1,502.3 L234.4,500.1 L234.7,500.3 L234.9,500.0 L235.2,498.0 L235.5,498.9 L235.8,499.3 L236.0,497.1 L236.3,497.8 L236.6,496.3 L236.8,495.5 L237.1,496.2 L237.3,495.9 L237.5,493.5 L237.8,492.7 L238.0,492.2 L238.3,491.2 L238.5,489.9 L238.7,489.4 L239.0,490.0 L239.2,488.0 L239.5,488.2 L239.8,487.8 L240.0,486.1 L240.3,485.8 L240.6,486.3 L240.8,486.0 L241.1,484.2 L241.4,485.8 L241.7,485.8 L241.9,486.2 L242.2,483.5 L242.5,482.3 L242.9,480.7 L243.3,481.9 L243.7,480.8 L244.1,479.5 L244.4,479.5 L244.8,480.7 L245.2,480.9 L245.6,479.1 L245.8,478.6 L245.9,481.0 L246.1,481.5 L246.2,482.4 L246.4,481.3 L246.5,480.9 L246.7,482.9 L246.8,483.4 L247.0,482.9 L247.1,485.5 L247.3,486.3 L247.4,487.5 L247.6,486.3 L247.8,488.2 L247.9,487.1 L248.1,489.2 L248.2,489.4 L248.4,489.4 L248.5,490.4 L248.7,492.3 L248.8,491.6 L249.0,491.1 L249.1,492.3 L249.3,492.3 L249.4,492.2 L249.6,492.6 L249.7,492.8 L249.9,493.6 L250.0,494.6 L250.2,495.4 L250.5,497.5 L250.8,497.5 L251.0,498.4 L251.3,498.2 L251.6,498.8 L251.9,498.4 L252.2,499.2 L252.5,499.2 L252.7,501.6 L253.0,502.6 L253.3,502.4 L253.7,503.3 L254.0,505.5 L254.4,504.4 L254.7,506.2 L255.1,506.3 L255.4,506.8 L255.8,508.3 L256.2,507.0 L256.5,506.3 L256.9,506.3 L257.3,506.9 L257.7,505.0 L258.0,505.2 L258.4,504.7 L258.8,504.0 L259.1,502.7 L259.5,501.5 L259.9,499.7 L260.3,498.8 L260.6,497.8 L261.0,499.0 L261.6,498.2 L262.2,497.4 L262.9,496.5 L263.5,498.2 L263.7,499.9 L264.0,500.5 L264.2,500.0 L264.4,499.8 L264.7,500.1 L264.9,501.1 L265.2,501.0 L265.4,502.0 L265.6,502.3 L265.9,504.8 L266.1,506.5 L266.5,506.3 L266.9,505.4 L267.4,507.3 L267.8,506.6 L268.2,506.5 L268.6,505.6 L269.0,505.5 L269.3,505.4 L269.7,505.2 L270.1,503.9 L270.5,503.9 L270.8,502.1 L271.2,501.7 L271.5,501.7 L271.8,502.9 L272.1,502.8 L272.4,502.8 L272.8,504.0 L273.1,504.6 L273.4,506.2 L273.7,507.2 L274.0,508.6 L274.3,509.4 L274.7,509.1 L275.0,509.2 L275.4,507.5 L275.7,506.2 L276.1,507.2 L276.4,505.0 L276.8,505.2 L277.1,504.9 L277.5,502.7 L277.8,503.6 L278.2,504.1 L278.5,503.3 L278.8,503.0 L279.2,502.8 L279.5,500.5 L279.9,500.1 L280.2,499.6 L280.8,500.4 L281.5,500.6 L282.1,500.7 L282.7,500.0 L283.4,500.4 L284.0,499.9 L284.5,500.2 L285.0,499.2 L285.6,498.2 L286.1,498.2 L286.6,499.0 L287.1,498.9 L287.8,501.1 L288.4,501.5 L289.1,502.1 L289.7,502.6 L290.4,503.1 L290.9,502.3 L291.5,500.2 L292.0,501.3 L292.6,501.6 L293.1,500.8 L293.7,500.3 L294.2,500.3 L295.0,499.1 L295.6,500.1 L296.2,499.2 L296.8,498.1 L297.4,498.0 L298.1,499.3 L298.7,498.4 L299.3,499.5 L299.9,500.7 L300.5,499.9 L301.1,498.9 L301.6,498.5 L302.2,498.8 L302.7,499.1 L303.3,498.7 L303.9,498.4 L304.4,496.4 L305.0,495.4 L305.5,495.0 L306.1,496.2 L306.6,496.1 L307.0,497.1 L307.5,496.1 L308.0,496.0 L308.4,496.7 L308.9,498.6 L309.3,499.8 L309.8,500.7 L310.4,499.9 L311.0,500.2 L311.6,500.3 L312.3,500.4 L312.9,499.5 L313.5,501.4 L313.8,500.8 L314.2,503.1 L314.5,504.5 L314.9,502.8 L315.2,503.4 L315.5,505.1 L315.9,506.8 L316.2,506.4 L316.4,505.9 L316.6,505.8 L316.8,508.2 L317.0,507.6 L317.3,508.6 L317.5,508.2 L317.7,509.3 L317.9,511.6 L318.1,510.6 L318.2,512.4 L318.3,512.7 L318.5,514.3 L318.6,514.9 L318.7,514.1 L318.8,515.9 L318.9,516.0 L319.1,514.9 L319.2,514.5 L319.3,516.1 L319.4,517.1 L319.5,517.4 L319.7,517.4 L319.8,518.3 L319.9,519.0 L320.0,521.2 L320.1,520.2 L320.2,522.2 L320.2,523.8 L320.3,522.8 L320.4,524.9 L320.5,525.8 L320.6,527.1 L320.7,526.2 L320.8,526.3 L320.9,526.6 L320.9,528.9 L321.0,529.2 L321.1,529.0 L321.2,529.3 L321.3,529.4 L321.4,529.0 L321.6,529.2 L321.7,531.8 L321.8,531.9 L321.9,534.1 L322.1,533.6 L322.2,533.6 L322.3,534.7 L322.4,533.3 L322.5,532.9 L322.6,534.1 L322.6,534.2 L322.7,533.8 L322.8,532.8 L322.9,532.8 L323.0,532.6 L323.1,531.1 L323.2,530.4 L323.3,527.8 L323.3,528.1 L323.4,527.2 L323.5,527.3 L323.6,526.8 L323.7,525.1 L323.8,523.2 L323.9,524.5 L324.0,522.6 L324.1,522.3 L324.2,521.4 L324.3,520.6 L324.4,521.1 L324.6,521.9 L324.7,519.8 L324.8,519.6 L324.9,518.2 L325.0,517.9 L325.1,517.0 L325.2,515.5 L325.3,514.4 L325.4,513.6 L325.5,515.0 L325.8,514.3 L326.1,512.8 L326.4,513.7 L326.7,514.3 L327.0,512.6 L327.3,510.5 L327.7,509.3 L328.1,508.1 L328.4,507.9 L328.8,506.8 L329.2,506.4 L329.6,507.1 L329.9,508.6 L330.3,510.7 L330.6,511.7 L331.0,511.5 L331.2,511.6 L331.5,512.3 L331.7,512.5 L331.9,512.7 L332.2,512.3 L332.4,513.0 L332.7,515.7 L332.9,514.9 L333.1,515.9 L333.3,517.2 L333.5,518.8 L333.6,518.1 L333.8,518.2 L334.0,518.4 L334.2,519.3 L334.4,519.0 L334.6,520.1 L334.8,520.1 L335.0,519.8 L335.2,516.9 L335.4,515.0 L335.6,515.8 L335.8,516.5 L336.0,515.3 L336.2,514.8 L336.5,512.5 L336.7,512.1 L337.0,513.3 L337.2,513.4 L337.4,513.3 L337.7,513.3 L337.9,510.9 L338.2,508.9 L338.4,507.7 L338.8,507.9 L339.2,508.3 L339.6,509.0 L340.0,508.5 L340.4,507.8 L340.8,507.5 L341.2,506.2 L341.6,505.5 L342.0,503.4 L342.4,504.2 L342.8,502.7 L343.2,503.8 L343.6,503.3 L344.0,501.7 L344.3,500.1 L344.5,499.3 L344.8,499.8 L345.1,500.0 L345.4,498.1 L345.6,496.7 L345.9,497.0 L346.2,497.1 L346.4,496.4 L346.7,495.2 L346.9,495.4 L347.1,493.4 L347.3,493.0 L347.5,492.9 L347.8,494.1 L348.0,493.5 L348.2,493.7 L348.4,492.2 L348.6,490.5 L348.8,489.2 L349.0,490.4 L349.2,490.0 L349.4,488.3 L349.6,486.3 L349.8,486.3 L350.0,486.5 L350.2,485.6 L350.4,484.4 L350.6,484.6 L350.8,485.3 L351.0,483.3 L351.2,481.3 L351.5,480.9 L351.7,480.6 L351.9,480.9 L352.1,479.4 L352.3,480.1 L352.8,480.2 L353.2,479.3 L353.7,477.7 L354.1,478.9 L354.1,478.4 L354.2,480.0 L354.2,479.4 L354.2,479.3 L354.3,481.1 L354.3,481.0 L354.4,483.2 L354.4,483.3 L354.4,482.7 L354.5,482.8 L354.5,483.7 L354.6,485.2 L354.6,487.2 L354.6,486.1 L354.7,486.6 L354.7,486.5 L354.7,489.1 L354.8,488.3 L354.8,487.8 L354.9,487.9 L354.9,489.2 L354.9,491.7 L355.0,493.3 L355.0,494.0 L355.2,494.3 L355.3,493.9 L355.5,491.6 L355.6,489.7 L355.8,490.6 L355.9,490.2 L356.1,487.6 L356.3,487.8 L356.4,486.8 L356.6,485.9 L356.7,485.0 L356.9,483.8 L357.0,482.3 L357.1,482.1 L357.3,481.9 L357.4,483.3 L357.5,481.3 L357.6,482.5 L357.7,480.5 L357.9,479.7 L358.0,480.3 L358.1,480.4 L358.2,479.0 L358.3,476.8 L358.5,476.6 L358.6,475.9 L358.7,476.8 L359.1,475.0 L359.5,474.3 L359.9,475.2 L360.3,472.9 L360.7,472.6 L361.1,473.3 L361.5,473.4 L361.8,471.0 L362.1,469.4 L362.3,468.3 L362.6,470.0 L362.9,468.8 L363.2,469.3 L363.5,469.8 L363.7,468.1 L364.0,466.7 L364.3,467.8 L364.6,468.5 L364.6,466.8 L364.7,466.9 L364.7,465.4 L364.8,464.2 L364.8,462.5 L364.8,463.5 L364.9,464.2 L364.9,463.5 L365.0,463.7 L365.0,460.8 L365.2,459.6 L365.3,459.4 L365.5,460.4 L365.7,460.8 L365.8,459.0 L366.0,457.3 L366.1,456.7 L366.3,456.2 L366.5,457.0 L366.6,455.0 L366.8,455.4 L367.0,456.4 L367.2,457.4 L367.4,458.1 L367.6,458.3 L367.7,457.7 L367.9,457.7 L368.1,458.1 L368.3,459.8 L368.3,458.9 L368.3,459.1 L368.3,461.1 L368.4,461.0 L368.4,460.7 L368.4,460.7 L368.4,462.5 L368.4,463.1 L368.4,465.7 L368.4,467.1 L368.5,468.4 L368.5,467.3 L368.5,466.4 L368.5,466.2 L368.5,467.6 L368.5,469.3 L368.6,469.7 L368.6,469.6 L368.6,470.3 L368.6,471.6 L368.6,472.8 L368.6,473.9 L368.6,475.1 L368.7,475.5 L368.7,474.4 L368.7,476.2 L368.7,475.8 L368.9,475.5 L369.0,474.4 L369.2,474.7 L369.4,472.9 L369.5,471.8 L369.7,470.9 L369.9,469.9 L370.0,471.2 L370.2,470.7 L370.3,469.4 L370.4,468.7 L370.5,469.8 L370.5,468.6 L370.6,466.9 L370.7,467.4 L370.8,466.9 L370.9,467.4 L371.0,464.8 L371.1,464.1 L371.2,464.5 L371.2,464.5 L371.3,464.5 L371.4,461.6 L371.5,460.4 L372.0,459.3 L372.6,458.7 L373.1,460.5 L373.7,460.2 L374.2,460.9 L374.7,460.2 L375.1,461.6 L375.6,461.3 L376.1,460.8 L376.5,461.3 L376.9,461.8 L377.3,459.4 L377.7,459.2 L378.1,459.0 L378.5,457.4 L378.9,456.8 L379.2,455.5 L379.4,454.7 L379.7,454.2 L380.0,454.7 L380.2,454.9 L380.5,453.4 L380.8,451.7 L381.1,451.5 L381.3,452.2 L381.6,450.9 L382.1,450.4 L382.5,449.5 L383.0,450.6 L383.5,450.3 L383.9,448.4 L384.4,447.3 L385.1,448.1 L385.8,449.1 L386.5,450.0 L387.2,448.9 L387.9,448.2 L388.5,449.3 L389.2,449.0 L389.9,448.3 L390.6,447.9 L391.3,449.5 L392.0,448.4 L392.7,448.4 L393.3,447.6 L393.8,447.1 L394.4,448.0 L394.9,448.7 L395.5,447.1 L396.2,445.6 L396.9,446.3 L397.6,445.0 L398.3,443.6 L398.8,446.1 L399.2,446.3 L399.7,447.7 L400.1,447.5 L400.2,449.2 L400.3,449.1 L400.3,448.4 L400.4,447.9 L400.5,449.4 L400.6,450.9 L400.6,452.7 L400.7,451.5 L400.8,452.8 L400.9,452.9 L400.9,453.7 L401.0,453.3 L401.1,453.8 L401.2,455.1 L401.2,457.2 L401.3,456.2 L401.4,457.1 L401.5,458.8 L401.6,460.5 L401.6,459.4 L401.7,458.9 L401.8,461.3 L401.9,463.0 L402.0,462.8 L402.1,461.6 L402.1,463.9 L402.2,463.8 L402.3,465.6 L402.4,466.0 L402.5,467.1 L402.6,466.0 L402.6,467.5 L402.7,467.0 L402.8,467.5 L402.9,469.4 L403.0,470.6 L403.2,469.7 L403.3,469.5 L403.5,470.2 L403.6,471.3 L403.8,471.7 L403.9,471.5 L404.1,472.0 L404.2,474.0 L404.4,475.9 L404.6,474.6 L404.7,475.8 L405.1,477.2 L405.5,476.0 L405.9,478.0 L406.3,477.2 L406.7,478.4 L407.1,479.2 L407.5,480.1 L407.8,478.8 L408.1,478.1 L408.3,478.0 L408.6,477.2 L408.9,477.3 L409.2,476.4 L409.5,475.6 L409.7,473.7 L410.0,474.2 L410.3,473.8 L410.5,472.6 L410.8,473.2 L411.0,473.4 L411.2,472.2 L411.4,470.5 L411.7,470.2 L411.9,468.6 L412.1,467.6 L412.7,467.9 L413.4,467.0 L414.0,467.4 L414.2,468.6 L414.4,468.1 L414.6,469.9 L414.8,469.5 L415.0,471.5 L415.2,473.0 L415.4,473.3 L415.6,472.4 L415.8,473.5 L415.9,474.0 L416.0,476.3 L416.1,475.4 L416.2,477.3 L416.3,479.1 L416.4,479.5 L416.5,480.3 L416.6,479.2 L416.8,481.2 L416.9,481.1 L417.0,482.7 L417.1,483.7 L417.2,482.3 L417.3,483.7 L417.4,485.2 L417.5,483.7 L417.6,484.0 L417.7,485.6 L417.8,485.0 L417.9,487.2 L418.1,486.8 L418.2,488.5 L418.3,487.6 L418.4,488.5 L418.5,490.6 L418.7,489.8 L418.8,489.9 L418.9,490.9 L419.0,491.2 L419.1,490.7 L419.3,491.2 L419.4,491.7 L419.5,494.6 L419.7,495.6 L419.8,497.2 L420.0,496.1 L420.1,497.6 L420.3,496.8 L420.4,497.8 L420.6,499.0 L420.8,499.0 L420.9,500.9 L421.1,501.3 L421.2,501.8 L421.4,503.3 L421.5,502.0 L421.7,504.3 L421.9,504.7 L422.0,504.4 L422.1,505.8 L422.3,505.2 L422.5,507.3 L422.6,507.5 L422.8,506.0 L423.0,506.2 L423.2,505.0 L423.4,503.3 L423.5,503.9 L423.7,501.8 L423.9,502.7 L424.1,501.2 L424.3,501.3 L424.4,502.1 L424.6,501.0 L424.7,500.4 L424.9,498.8 L425.1,496.6 L425.2,495.3 L425.4,494.6 L425.5,495.4 L425.7,494.9 L425.8,494.7 L426.0,495.4 L426.2,493.3 L426.4,492.1 L426.7,492.5 L426.9,490.6 L427.1,489.2 L427.4,489.2 L427.6,488.3 L427.8,488.2 L428.3,487.6 L428.8,488.2 L429.2,488.3 L429.7,487.1 L430.1,488.3 L430.6,488.8 L431.0,488.2 L431.5,490.5 L431.9,489.9 L432.4,489.5 L432.9,489.3 L433.3,491.1 L433.8,492.9 L434.3,493.9 L434.7,493.5 L435.2,493.0 L435.9,491.5 L436.6,492.5 L437.3,492.7 L438.0,492.1 L438.7,492.5 L439.4,492.1 L440.1,493.2 L440.8,493.1 L441.2,491.2 L441.7,492.0 L442.1,489.6 L442.6,489.5 L443.1,488.9 L443.5,487.9 L443.8,486.4 L444.1,487.6 L444.4,485.6 L444.7,485.9 L445.0,487.0 L445.2,484.9 L445.4,483.6 L445.6,483.9 L445.8,483.5 L446.0,483.3 L446.3,483.5 L446.6,481.5 L446.8,480.5 L447.1,479.7 L447.4,478.2 L447.7,479.6 L448.0,479.8 L448.3,479.5 L448.5,476.9 L448.8,477.7 L449.1,477.6 L449.7,476.7 L450.2,476.8 L450.8,475.9 L451.3,474.5 L451.9,473.2 L452.4,472.7 L453.0,471.7 L453.2,472.8 L453.5,475.0 L453.7,476.2 L453.9,477.6 L454.1,478.3 L454.4,477.5 L454.6,478.3 L454.8,478.6 L455.0,480.1 L455.3,480.3 L455.5,480.0 L455.7,481.2 L455.8,483.1 L456.0,482.2 L456.2,483.9 L456.4,482.6 L456.5,482.8 L456.7,483.2 L456.9,485.1 L457.1,487.1 L457.2,487.9 L457.4,487.3 L457.6,488.9 L457.8,488.4 L457.9,488.1 L458.1,490.3 L458.6,490.8 L459.1,491.5 L459.6,492.0 L460.1,493.4 L460.6,492.9 L461.0,492.9 L461.3,492.3 L461.7,492.1 L462.1,490.6 L462.5,490.3 L462.8,489.5 L463.2,488.0 L463.6,486.7 L464.0,486.9 L464.3,485.2 L464.7,486.6 L465.1,484.8 L465.5,483.2 L465.9,482.3 L466.2,484.1 L466.6,483.1 L467.0,481.7 L467.3,480.3 L467.6,479.4 L468.0,480.6 L468.3,480.8 L468.6,480.9 L468.9,480.8 L469.3,478.5 L469.6,478.6 L469.9,477.7 L470.2,478.4 L470.6,478.5 L470.9,478.5 L471.2,475.8 L471.6,476.5 L471.9,476.8 L472.2,476.8 L472.5,474.1 L472.9,472.6 L473.2,471.3 L473.5,470.2 L473.9,471.7 L474.2,472.2 L474.5,472.8 L474.8,473.9 L475.1,474.1 L475.4,473.5 L475.8,472.8 L476.1,472.7 L476.4,474.8 L476.7,474.5 L477.0,475.0 L477.3,475.8 L477.6,474.1 L477.9,473.7 L478.1,473.2 L478.4,474.0 L478.7,473.2 L479.0,472.3 L479.2,473.5 L479.5,472.5 L479.8,472.7 L480.4,472.1 L480.9,469.9 L481.5,469.6 L482.0,469.4 L482.6,470.1 L483.1,469.1 L483.7,469.4 L484.3,469.5 L485.0,468.7 L485.6,470.3 L486.2,468.9 L486.9,470.5 L487.5,469.5 L487.8,468.9 L488.1,469.4 L488.4,471.6 L488.7,473.7 L488.9,472.3 L489.2,473.1 L489.5,473.9 L489.8,475.5 L490.1,474.8 L490.5,474.5 L490.9,473.6 L491.2,474.4 L491.6,472.9 L492.0,473.9 L492.4,472.2 L492.8,470.9 L493.1,471.3 L493.5,470.8 L493.9,469.1 L494.5,470.2 L495.2,469.2 L495.9,470.9 L496.5,471.7 L497.1,472.4 L497.8,472.5 L498.2,472.0 L498.6,472.1 L499.1,472.3 L499.5,474.1 L499.9,472.8 L500.3,474.8 L500.7,472.6 L501.2,471.7 L501.6,471.2 L502.0,472.7 L502.5,472.1 L502.9,471.2 L503.3,472.1 L503.8,470.4 L504.2,470.0 L504.8,470.4 L505.5,471.3 L506.1,472.0 L506.7,472.1 L507.4,471.3 L508.0,471.0 L508.3,469.6 L508.6,470.6 L508.9,470.4 L509.2,470.2 L509.4,468.2 L509.7,467.6 L510.0,468.0 L510.3,467.4 L510.6,465.5 L511.2,465.4 L511.9,466.5 L512.5,465.0 L513.1,463.9 L513.1,464.4 L513.2,466.2 L513.2,467.8 L513.3,466.9 L513.4,466.7 L513.4,467.2 L513.5,467.9 L513.5,469.2 L513.5,469.1 L513.6,469.8 L513.6,470.0 L513.7,472.8 L513.8,473.8 L513.8,472.8 L513.9,475.1 L513.9,474.1 L514.0,474.6 L514.0,477.0 L514.0,478.0 L514.1,478.6 L514.1,478.4 L514.2,477.8 L514.2,479.0 L514.3,478.4 L514.4,478.6 L514.4,479.6 L514.5,479.3 L514.5,480.5 L514.5,482.7 L514.6,483.8 L514.6,484.1 L514.7,485.0 L514.8,485.2 L514.8,484.6 L514.9,486.0 L514.9,486.4 L515.0,486.7 L515.1,487.1 L515.2,485.6 L515.2,484.9 L515.3,484.8 L515.4,483.4 L515.5,481.9 L515.6,482.2 L515.7,482.6 L515.7,482.2 L515.8,481.5 L515.9,481.3 L516.0,480.4 L516.1,479.5 L516.2,478.1 L516.2,476.7 L516.3,476.6 L516.4,474.6 L516.5,474.3 L516.6,474.9 L516.7,474.7 L516.7,474.1 L516.8,472.4 L516.9,471.6 L517.0,471.1 L517.2,471.0 L517.5,470.1 L517.7,470.1 L517.9,470.6 L518.1,468.4 L518.4,468.3 L518.6,468.4 L518.8,467.0 L519.0,466.3 L519.3,467.1 L519.5,464.4 L520.1,464.5 L520.8,463.3 L521.5,464.3 L522.1,465.2 L522.2,464.0 L522.4,461.9 L522.5,461.8 L522.7,461.4 L522.8,461.4 L523.0,460.6 L523.1,460.2 L523.3,460.3 L523.4,459.1 L523.6,457.9 L523.7,458.6 L523.9,456.5 L524.0,456.4 L524.2,455.3 L524.3,455.5 L524.5,453.4 L524.6,454.6 L524.7,453.0 L524.8,451.0 L525.0,450.3 L525.1,450.0 L525.2,448.4 L525.3,448.5 L525.5,448.2 L525.6,448.7 L525.7,447.6 L525.8,446.5 L526.0,445.5 L526.1,446.2 L526.2,446.9 L526.3,445.8 L526.5,444.0 L526.6,444.4 L526.7,443.2 L526.8,441.7 L527.0,440.3 L527.1,441.3 L527.2,441.6 L527.4,441.0 L527.5,439.9 L527.7,439.3 L527.8,437.7 L528.0,438.8 L528.1,437.2 L528.3,437.0 L528.4,437.1 L528.6,436.9 L528.7,435.5 L528.9,433.9 L529.0,433.5 L529.2,431.8 L529.3,432.7 L529.5,431.5 L529.6,432.0 L529.8,430.3 L530.4,429.7 L531.0,428.9 L531.7,428.8 L532.3,427.8" fill="none" stroke="#2b78e8" stroke-width="6.3" stroke-linejoin="round" stroke-linecap="round"/>
<text x="62" y="402.1" text-anchor="end" font-size="17.2" fill="#686868">12</text>
<text x="62" y="427.6" text-anchor="end" font-size="17.2" fill="#686868">10</text>
<text x="62" y="453.1" text-anchor="end" font-size="17.2" fill="#686868">8</text>
<text x="62" y="478.6" text-anchor="end" font-size="17.2" fill="#686868">6</text>
<text x="62" y="504.1" text-anchor="end" font-size="17.2" fill="#686868">4</text>
<text x="62" y="529.6" text-anchor="end" font-size="17.2" fill="#686868">2</text>
<text x="62" y="555.1" text-anchor="end" font-size="17.2" fill="#686868">0</text>
<text x="62" y="580.6" text-anchor="end" font-size="17.2" fill="#686868"><tspan dy="-1.6" letter-spacing="1.6">-</tspan><tspan dy="1.6">2</tspan></text>
<text x="62" y="606.1" text-anchor="end" font-size="17.2" fill="#686868"><tspan dy="-1.6" letter-spacing="1.6">-</tspan><tspan dy="1.6">4</tspan></text>
<text x="553.5" y="401.9" font-size="17.2" letter-spacing="0.5" fill="#686868">2000</text>
<text x="553.5" y="452.9" font-size="17.2" letter-spacing="0.5" fill="#686868">1500</text>
<text x="553.5" y="503.9" font-size="17.2" letter-spacing="0.5" fill="#686868">1000</text>
<text x="553.5" y="554.9" font-size="17.2" letter-spacing="0.5" fill="#686868">500</text>
<text x="553.5" y="605.9" font-size="17.2" letter-spacing="0.5" fill="#686868">0</text>
<text transform="translate(87.7,614.1) rotate(-90)" text-anchor="end" font-size="17.2" letter-spacing="0.25" fill="#686868">01/14</text>
<text transform="translate(126.2,614.1) rotate(-90)" text-anchor="end" font-size="17.2" letter-spacing="0.25" fill="#686868">01/15</text>
<text transform="translate(164.6,614.1) rotate(-90)" text-anchor="end" font-size="17.2" letter-spacing="0.25" fill="#686868">01/16</text>
<text transform="translate(203.1,614.1) rotate(-90)" text-anchor="end" font-size="17.2" letter-spacing="0.25" fill="#686868">01/17</text>
<text transform="translate(241.5,614.1) rotate(-90)" text-anchor="end" font-size="17.2" letter-spacing="0.25" fill="#686868">01/18</text>
<text transform="translate(280.0,614.1) rotate(-90)" text-anchor="end" font-size="17.2" letter-spacing="0.25" fill="#686868">01/19</text>
<text transform="translate(318.5,614.1) rotate(-90)" text-anchor="end" font-size="17.2" letter-spacing="0.25" fill="#686868">01/20</text>
<text transform="translate(356.9,614.1) rotate(-90)" text-anchor="end" font-size="17.2" letter-spacing="0.25" fill="#686868">01/21</text>
<text transform="translate(395.4,614.1) rotate(-90)" text-anchor="end" font-size="17.2" letter-spacing="0.25" fill="#686868">01/22</text>
<text transform="translate(433.8,614.1) rotate(-90)" text-anchor="end" font-size="17.2" letter-spacing="0.25" fill="#686868">01/23</text>
<text transform="translate(472.3,614.1) rotate(-90)" text-anchor="end" font-size="17.2" letter-spacing="0.25" fill="#686868">01/24</text>
<text transform="translate(510.8,614.1) rotate(-90)" text-anchor="end" font-size="17.2" letter-spacing="0.25" fill="#686868">01/25</text>
<rect x="621" y="439" width="46.3" height="12" fill="#4db1f1"/>
<line x1="621.2" y1="510" x2="665.4" y2="510" stroke="#083fe5" stroke-width="5.2" stroke-linecap="round"/>
<line x1="621.2" y1="574.3" x2="665.4" y2="574.3" stroke="#2b78e8" stroke-width="5.2" stroke-linecap="round"/>
</svg>
<div class="bar" id="bar1"><span id="t1" style="letter-spacing:0.168px">P/E của VnIndex</span></div>
<div class="bar" id="bar2"><span id="t2" style="letter-spacing:-0.065px">Chênh lệch tài sản sinh lời (TSSL)</span></div>
<div class="lg" id="l1" style="left:782px;top:82.3px;letter-spacing:-0.117px">P/E cơ bản</div>
<div class="lg" id="l2" style="left:782px;top:147.3px;letter-spacing:0.024px">PE Trung bình</div>
<div class="lg" id="l3" style="left:782px;top:212.3px;letter-spacing:0.056px">-1std</div>
<div class="lg" id="l4" style="left:782px;top:277.3px;letter-spacing:-0.273px">+1std</div>
<div class="lg" id="l5" style="left:671.8px;top:434.3px;letter-spacing:0.23px">Chênh lệch TSSL thị trường<br><span style="letter-spacing:-0.15px">(% - LHS)</span></div>
<div class="lg" id="l6" style="left:671.8px;top:498.3px;letter-spacing:-0.085px">Tỷ suất VNINDEX (%-LHS)</div>
<div class="lg" id="l7" style="left:671.8px;top:562.8px;letter-spacing:-0.065px">VNINDEX (điểm số - RHS)</div>
<div id="foot"><span id="fa" style="letter-spacing:-0.384px">Nguồn: Fiinpro, Bloomberg, Shinhan Securities Vietnam</span><span id="fb" style="position:absolute;left:394.2px;top:0;letter-spacing:-0.153px">Dữ liệu cập nhật đến ngày 30/09/2025</span></div>
<div id="pg">Báo Cáo Chiến Lược <b>11</b></div>
</div>
</body>
</html>
